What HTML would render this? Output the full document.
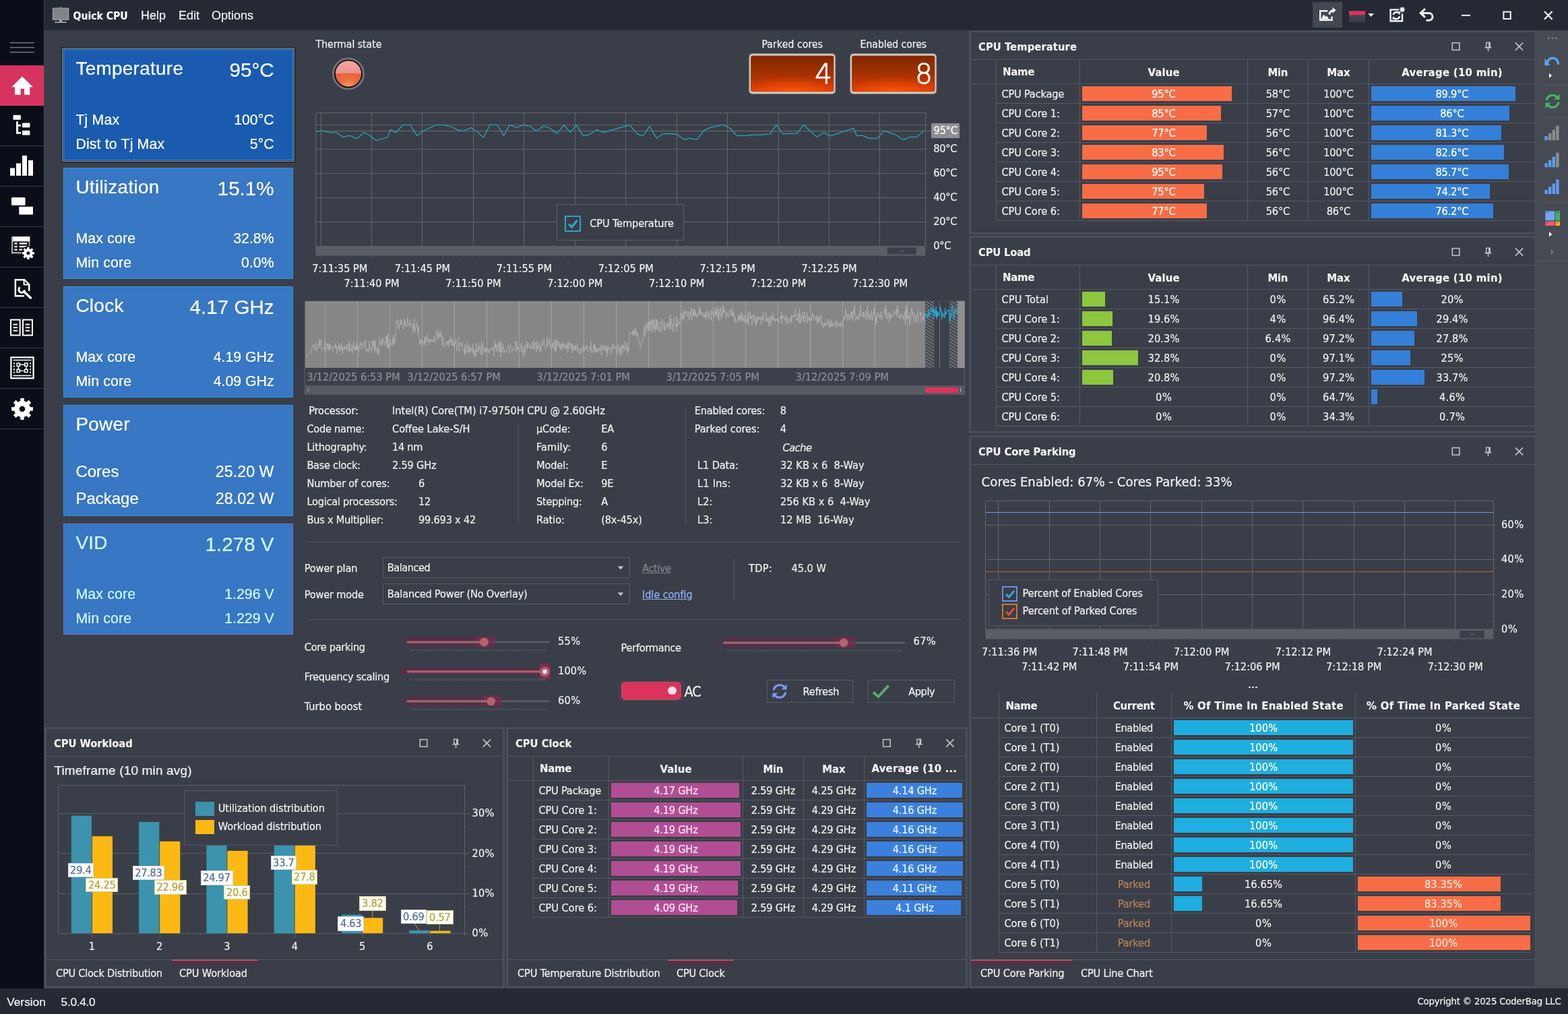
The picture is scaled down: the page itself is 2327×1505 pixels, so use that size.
<!DOCTYPE html>
<html lang="en"><head><meta charset="utf-8"><title>Quick CPU</title>
<style>
html,body{margin:0;padding:0;background:#3a3e48;}
body{width:2327px;height:1505px;overflow:hidden;position:relative;font-family:'DejaVu Sans Condensed','Liberation Sans',sans-serif;font-size:16px;color:#e6e6e6;}
#app{position:absolute;left:0;top:0;width:2327px;height:1505px;overflow:hidden;background:#3a3e48;}
#app div,#app svg{position:absolute;box-sizing:border-box;}
#app svg{overflow:visible;}
.t{white-space:pre;-webkit-text-stroke-width:0.22px;}
.b{-webkit-text-stroke-width:0.12px;}
.seg{width:40px;height:46px;line-height:46px;font-size:41px;text-align:center;color:#fff6ee;font-family:'DejaVu Sans Light','DejaVu Sans',sans-serif;font-weight:200;transform:scaleX(0.98);-webkit-text-stroke-width:1.1px;}

</style></head><body><div id="app">
<div style="left:65px;top:0px;width:2262px;height:45px;background:#252934;"></div>
<div style="left:0px;top:0px;width:65px;height:1467px;background:#0b0e18;"></div>
<div style="left:0px;top:1467px;width:2327px;height:38px;background:#252934;"></div>
<div style="left:2279px;top:45px;width:48px;height:1422px;background:#464a53;"></div>
<div style="left:0px;top:97px;width:65px;height:60px;background:#d6335e;"></div>
<div style="left:0px;top:216px;width:65px;height:1px;background:#3b3f4a;"></div>
<div style="left:0px;top:276px;width:65px;height:1px;background:#3b3f4a;"></div>
<div style="left:0px;top:336px;width:65px;height:1px;background:#3b3f4a;"></div>
<div style="left:0px;top:396px;width:65px;height:1px;background:#3b3f4a;"></div>
<div style="left:0px;top:456px;width:65px;height:1px;background:#3b3f4a;"></div>
<div style="left:0px;top:516px;width:65px;height:1px;background:#3b3f4a;"></div>
<div style="left:0px;top:576px;width:65px;height:1px;background:#3b3f4a;"></div>
<div style="left:0px;top:636px;width:65px;height:1px;background:#3b3f4a;"></div>
<div style="left:65px;top:0px;width:1px;height:45px;background:#383c47;"></div>
<div style="left:65px;top:45px;width:1px;height:1422px;background:#454954;"></div>
<svg style="left:0px;top:0px;" width="66" height="700" viewBox="0 0 66 700"><rect x="15" y="62.8" width="36" height="1.4" fill="#7b7f88"/><rect x="15" y="69.8" width="36" height="1.4" fill="#7b7f88"/><rect x="15" y="76.8" width="36" height="1.4" fill="#7b7f88"/><path fill="#fff" d="M33,113.6 L49,129.2 L44.2,129.2 L44.2,140.8 L36,140.8 L36,131.8 L30.6,131.8 L30.6,140.8 L22,140.8 L22,129.2 L17.2,129.2 Z"/><g fill="#fff"><rect x="19.5" y="170.8" width="11.4" height="7" rx="0.8"/><rect x="33" y="182.6" width="11.4" height="6.6" rx="0.8"/><rect x="33" y="193.8" width="11.4" height="6.8" rx="0.8"/><rect x="24" y="180.2" width="3" height="18.4"/><rect x="24" y="184.8" width="7" height="2.8"/><rect x="24" y="195.8" width="7" height="2.8"/></g><g fill="#fff"><rect x="15" y="249.4" width="7" height="11.4"/><rect x="24" y="242.4" width="7" height="18.4"/><rect x="33" y="230.9" width="7" height="29.9"/><rect x="42" y="237.8" width="7" height="23"/></g><g fill="#fff"><rect x="17" y="293" width="20.5" height="11.8" rx="1"/><rect x="28.3" y="306.8" width="20.7" height="11.6" rx="1"/></g><g fill="#fff"><rect x="17" y="351" width="27.4" height="7.4"/><rect x="17" y="351" width="2.2" height="25.4" fill="#a4a7ae"/><rect x="17" y="374" width="16" height="2.4" fill="#a4a7ae"/><rect x="42.6" y="358" width="1.8" height="8" fill="#a4a7ae"/><rect x="21.4" y="360.2" width="4.2" height="2.4"/><rect x="28.6" y="360.2" width="11.6" height="2.4"/><rect x="21.4" y="364.8" width="4.2" height="2.4"/><rect x="28.6" y="364.8" width="11.6" height="2.4"/><rect x="21.4" y="369.4" width="4.2" height="2.4"/><rect x="28.6" y="369.4" width="5" height="2.4"/></g><circle cx="41.9" cy="375.8" r="10.6" fill="#0b0e18"/><path fill="#fff" fill-rule="evenodd" d="M43.46,382.52 L43.59,384.95 L40.21,384.95 L40.34,382.52 L38.25,381.65 L36.62,383.46 L34.24,381.08 L36.05,379.45 L35.18,377.36 L32.75,377.49 L32.75,374.11 L35.18,374.24 L36.05,372.15 L34.24,370.52 L36.62,368.14 L38.25,369.95 L40.34,369.08 L40.21,366.65 L43.59,366.65 L43.46,369.08 L45.55,369.95 L47.18,368.14 L49.56,370.52 L47.75,372.15 L48.62,374.24 L51.05,374.11 L51.05,377.49 L48.62,377.36 L47.75,379.45 L49.56,381.08 L47.18,383.46 L45.55,381.65Z M44.40,375.80 A2.5,2.5 0 1,0 39.40,375.80 A2.5,2.5 0 1,0 44.40,375.80Z"/><g fill="none" stroke="#fff" stroke-width="2.5"><path d="M43.2,432 L43.2,422.2 L36.2,415.2 L22.8,415.2 L22.8,439.2 L36,439.2"/><path d="M35.6,415.6 L35.6,422.6 L42.8,422.6" stroke-width="2"/></g><path d="M28.6,431.2 A4.4,4.4 0 1 0 33.2,426.2" fill="none" stroke="#0b0e18" stroke-width="6.4"/><path d="M29.6,426.4 A4.3,4.3 0 1 0 36.4,430.4" fill="none" stroke="#fff" stroke-width="3"/><path d="M36.2,433.4 L45.4,442" stroke="#fff" stroke-width="3.6" stroke-linecap="round" fill="none"/><g fill="none" stroke="#fff" stroke-width="2"><rect x="16" y="474.6" width="13.6" height="23"/><rect x="34" y="474.6" width="14" height="23"/></g><g fill="#fff"><rect x="19.6" y="480.6" width="6.4" height="2"/><rect x="19.6" y="485.2" width="6.4" height="2"/><rect x="19.6" y="489.8" width="6.4" height="2"/><rect x="37.8" y="480.6" width="6.4" height="2"/><rect x="37.8" y="485.2" width="6.4" height="2"/><rect x="37.8" y="489.8" width="6.4" height="2"/></g><g fill="none" stroke="#fff" stroke-width="2.2"><rect x="16.4" y="530.4" width="33.2" height="31"/><path d="M19.4,534.4 H46.6 M19.4,557.4 H46.6" stroke-width="1.5"/><path d="M27.2,541.2 H38.8 V550.4 H27.2 Z" stroke-width="1.4"/><path d="M20.9,538.2 V554.4 M45.1,538.2 V554.4" stroke-width="1.8" stroke-dasharray="2.4 2"/></g><g fill="#0b0e18" stroke="#fff" stroke-width="1.5"><rect x="25.1" y="539.1" width="4.2" height="4.2"/><rect x="36.7" y="539.1" width="4.2" height="4.2"/><rect x="25.1" y="548.3" width="4.2" height="4.2"/><rect x="36.7" y="548.3" width="4.2" height="4.2"/></g><path fill="#fff" fill-rule="evenodd" d="M35.66,618.91 L35.84,622.95 L30.16,622.95 L30.34,618.91 L26.46,617.30 L23.73,620.28 L19.72,616.27 L22.70,613.54 L21.09,609.66 L17.05,609.84 L17.05,604.16 L21.09,604.34 L22.70,600.46 L19.72,597.73 L23.73,593.72 L26.46,596.70 L30.34,595.09 L30.16,591.05 L35.84,591.05 L35.66,595.09 L39.54,596.70 L42.27,593.72 L46.28,597.73 L43.30,600.46 L44.91,604.34 L48.95,604.16 L48.95,609.84 L44.91,609.66 L43.30,613.54 L46.28,616.27 L42.27,620.28 L39.54,617.30Z M37.30,607.00 A4.3,4.3 0 1,0 28.70,607.00 A4.3,4.3 0 1,0 37.30,607.00Z"/></svg>
<svg style="left:76px;top:8px;" width="28" height="28" viewBox="0 0 28 28"><rect x="1.8" y="3.6" width="24.6" height="18.4" rx="1" fill="#96989c"/><rect x="3.4" y="5" width="21.4" height="15.4" fill="#818387"/><path d="M14,1.6 L16.6,5.4 L11.4,5.4Z" fill="#8e9094"/><rect x="12.2" y="22" width="3.8" height="2.6" fill="#b4b6bb"/><rect x="5.2" y="24.2" width="17.6" height="1.8" fill="#a2a4a9"/></svg>
<div class="t b" style="top:17px;font-size:15.6px;line-height:15.6px;color:#ffffff;font-family:'DejaVu Sans Condensed','Liberation Sans',sans-serif;font-weight:bold;left:108.5px;">Quick CPU</div>
<div class="t" style="top:14px;font-size:18px;line-height:18px;color:#f0f0f0;font-family:'Liberation Sans',sans-serif;left:209px;">Help</div>
<div class="t" style="top:14px;font-size:18px;line-height:18px;color:#f0f0f0;font-family:'Liberation Sans',sans-serif;left:265px;">Edit</div>
<div class="t" style="top:14px;font-size:18px;line-height:18px;color:#f0f0f0;font-family:'Liberation Sans',sans-serif;left:314px;">Options</div>
<div style="left:1948px;top:3px;width:44px;height:38px;background:#434751;"></div>
<svg style="left:0px;top:0px;" width="2327" height="45" viewBox="0 0 2327 45"><g fill="none" stroke="#f4f4f4" stroke-width="2.4"><path d="M1970.4,16.2 H1959.2 V29.8 H1976.6 V24.4"/><path d="M1972.6,21.4 C1973.4,17.6 1975.6,15.6 1979,15.4" stroke-width="3"/></g><path d="M1977.6,10.6 L1982.6,15.2 L1977.6,19.8Z" fill="#f4f4f4"/><path d="M1960.6,28.6 L1964.4,21.4 L1967.6,25 L1969.2,23.6 L1972.4,28.6Z" fill="#f4f4f4"/><defs><linearGradient id="swg" x1="0" y1="0" x2="0" y2="1"><stop offset="0" stop-color="#4c5058"/><stop offset="1" stop-color="#363a43"/></linearGradient></defs><rect x="2002" y="16.4" width="24" height="17" fill="url(#swg)"/><rect x="2002" y="16.4" width="24" height="5.8" fill="#e0315d"/><path d="M2030.2,20 L2039,20 L2034.6,25Z" fill="#f4f4f4"/><g fill="none" stroke="#f4f4f4" stroke-width="2.4"><path d="M2076,14.4 H2063.6 V31.2 H2081 V20.6"/><path d="M2067.6,22 A4.8,4.8 0 0 1 2075.6,19.4" stroke-width="2.6"/><path d="M2077,24.2 A4.8,4.8 0 0 1 2069,26.8" stroke-width="2.6"/></g><path d="M2073.6,16.6 L2078.6,17.6 L2076.8,22.4Z M2071,29.6 L2066,28.6 L2067.8,23.8Z" fill="#f4f4f4"/><circle cx="2081" cy="14.2" r="2.6" fill="#f4f4f4"/><path d="M2081,10 V18.4 M2076.8,14.2 H2085.2 M2078,11.2 L2084,17.2 M2084,11.2 L2078,17.2" stroke="#f4f4f4" stroke-width="1.3"/><path d="M2108.8,19.4 H2120.6 A5.4,5.4 0 0 1 2120.6,30.2 H2116.6" fill="none" stroke="#f4f4f4" stroke-width="3"/><path d="M2115,13.2 L2108.2,19.4 L2115,25.6" fill="none" stroke="#f4f4f4" stroke-width="3"/><rect x="2169" y="21.8" width="13" height="2" fill="#f2f2f2"/><rect x="2231.4" y="17.6" width="10.4" height="10.4" fill="none" stroke="#f2f2f2" stroke-width="2"/><path d="M2292,17 L2303.6,28.6 M2303.6,17 L2292,28.6" stroke="#f2f2f2" stroke-width="2.2" fill="none"/></svg>
<div class="t" style="top:1479px;font-size:17.3px;line-height:17.3px;color:#f0f0f0;font-family:'Liberation Sans',sans-serif;left:10.2px;">Version</div>
<div class="t" style="top:1479px;font-size:17.3px;line-height:17.3px;color:#f0f0f0;font-family:'Liberation Sans',sans-serif;left:90.6px;letter-spacing:-0.3px;">5.0.4.0</div>
<div class="t" style="top:1479px;font-size:14.8px;line-height:14.8px;color:#f0f0f0;font-family:'DejaVu Sans Condensed','Liberation Sans',sans-serif;letter-spacing:-0.186px;right:10.39px;text-align:right;">Copyright © 2025 CoderBag LLC</div>
<div style="left:91px;top:70px;width:347px;height:171px;background:#2c3040;border:1px solid #0a0b0f;"></div>
<div style="left:92px;top:71px;width:345px;height:169px;border:1px solid #9a9aa6;"></div>
<div style="left:94px;top:73px;width:341.4px;height:165px;background:#1a5bb0;border:1px solid #2b9ae3;"></div>
<div class="t" style="top:88px;font-size:27.9px;line-height:27.9px;color:#ffffff;font-family:'Liberation Sans',sans-serif;left:112.4px;letter-spacing:0.3px;">Temperature</div>
<div class="t" style="top:89px;font-size:29.6px;line-height:29.6px;color:#ffffff;font-family:'Liberation Sans',sans-serif;right:1920.40px;text-align:right;">95°C</div>
<div class="t" style="top:168px;font-size:21.3px;line-height:21.3px;color:#ffffff;font-family:'Liberation Sans',sans-serif;left:112.4px;letter-spacing:0.15px;">Tj Max</div>
<div class="t" style="top:168px;font-size:21.3px;line-height:21.3px;color:#ffffff;font-family:'Liberation Sans',sans-serif;right:1920.40px;text-align:right;">100°C</div>
<div class="t" style="top:204px;font-size:21.3px;line-height:21.3px;color:#ffffff;font-family:'Liberation Sans',sans-serif;left:112.4px;letter-spacing:0.15px;">Dist to Tj Max</div>
<div class="t" style="top:204px;font-size:21.3px;line-height:21.3px;color:#ffffff;font-family:'Liberation Sans',sans-serif;right:1920.40px;text-align:right;">5°C</div>
<div style="left:94px;top:249px;width:341.4px;height:165px;background:#3777c3;border:1px solid #2f96e4;"></div>
<div class="t" style="top:264px;font-size:27.9px;line-height:27.9px;color:#ffffff;font-family:'Liberation Sans',sans-serif;left:112.4px;letter-spacing:0.3px;">Utilization</div>
<div class="t" style="top:265px;font-size:29.6px;line-height:29.6px;color:#ffffff;font-family:'Liberation Sans',sans-serif;right:1920.40px;text-align:right;">15.1%</div>
<div class="t" style="top:344px;font-size:21.3px;line-height:21.3px;color:#ffffff;font-family:'Liberation Sans',sans-serif;left:112.4px;letter-spacing:0.15px;">Max core</div>
<div class="t" style="top:344px;font-size:21.3px;line-height:21.3px;color:#ffffff;font-family:'Liberation Sans',sans-serif;right:1920.40px;text-align:right;">32.8%</div>
<div class="t" style="top:380px;font-size:21.3px;line-height:21.3px;color:#ffffff;font-family:'Liberation Sans',sans-serif;left:112.4px;letter-spacing:0.15px;">Min core</div>
<div class="t" style="top:380px;font-size:21.3px;line-height:21.3px;color:#ffffff;font-family:'Liberation Sans',sans-serif;right:1920.40px;text-align:right;">0.0%</div>
<div style="left:94px;top:425px;width:341.4px;height:165px;background:#3777c3;border:1px solid #2f96e4;"></div>
<div class="t" style="top:440px;font-size:27.9px;line-height:27.9px;color:#ffffff;font-family:'Liberation Sans',sans-serif;left:112.4px;letter-spacing:0.3px;">Clock</div>
<div class="t" style="top:441px;font-size:29.6px;line-height:29.6px;color:#ffffff;font-family:'Liberation Sans',sans-serif;right:1920.40px;text-align:right;">4.17 GHz</div>
<div class="t" style="top:520px;font-size:21.3px;line-height:21.3px;color:#ffffff;font-family:'Liberation Sans',sans-serif;left:112.4px;letter-spacing:0.15px;">Max core</div>
<div class="t" style="top:520px;font-size:21.3px;line-height:21.3px;color:#ffffff;font-family:'Liberation Sans',sans-serif;right:1920.40px;text-align:right;">4.19 GHz</div>
<div class="t" style="top:556px;font-size:21.3px;line-height:21.3px;color:#ffffff;font-family:'Liberation Sans',sans-serif;left:112.4px;letter-spacing:0.15px;">Min core</div>
<div class="t" style="top:556px;font-size:21.3px;line-height:21.3px;color:#ffffff;font-family:'Liberation Sans',sans-serif;right:1920.40px;text-align:right;">4.09 GHz</div>
<div style="left:94px;top:601px;width:341.4px;height:165px;background:#3777c3;border:1px solid #2f96e4;"></div>
<div class="t" style="top:616px;font-size:27.9px;line-height:27.9px;color:#ffffff;font-family:'Liberation Sans',sans-serif;left:112.4px;letter-spacing:0.3px;">Power</div>
<div class="t" style="top:688px;font-size:24px;line-height:24px;color:#ffffff;font-family:'Liberation Sans',sans-serif;left:112.4px;">Cores</div>
<div class="t" style="top:689px;font-size:23.3px;line-height:23.3px;color:#ffffff;font-family:'Liberation Sans',sans-serif;right:1920.40px;text-align:right;">25.20 W</div>
<div class="t" style="top:728px;font-size:24px;line-height:24px;color:#ffffff;font-family:'Liberation Sans',sans-serif;left:112.4px;">Package</div>
<div class="t" style="top:729px;font-size:23.3px;line-height:23.3px;color:#ffffff;font-family:'Liberation Sans',sans-serif;right:1920.40px;text-align:right;">28.02 W</div>
<div style="left:94px;top:777px;width:341.4px;height:165px;background:#3777c3;border:1px solid #6a76d8;"></div>
<div class="t" style="top:792px;font-size:27.9px;line-height:27.9px;color:#cdfbff;font-family:'Liberation Sans',sans-serif;left:112.4px;letter-spacing:0.3px;">VID</div>
<div class="t" style="top:793px;font-size:29.6px;line-height:29.6px;color:#cdfbff;font-family:'Liberation Sans',sans-serif;right:1920.40px;text-align:right;">1.278 V</div>
<div class="t" style="top:872px;font-size:21.3px;line-height:21.3px;color:#cdfbff;font-family:'Liberation Sans',sans-serif;left:112.4px;letter-spacing:0.15px;">Max core</div>
<div class="t" style="top:872px;font-size:21.3px;line-height:21.3px;color:#cdfbff;font-family:'Liberation Sans',sans-serif;right:1920.40px;text-align:right;">1.296 V</div>
<div class="t" style="top:908px;font-size:21.3px;line-height:21.3px;color:#cdfbff;font-family:'Liberation Sans',sans-serif;left:112.4px;letter-spacing:0.15px;">Min core</div>
<div class="t" style="top:908px;font-size:21.3px;line-height:21.3px;color:#cdfbff;font-family:'Liberation Sans',sans-serif;right:1920.40px;text-align:right;">1.229 V</div>
<div class="t" style="top:59px;font-size:15.6px;line-height:15.6px;color:#eeeeee;font-family:'DejaVu Sans Condensed','Liberation Sans',sans-serif;left:468.6px;">Thermal state</div>
<div class="t" style="top:59px;font-size:15.6px;line-height:15.6px;color:#eeeeee;font-family:'DejaVu Sans Condensed','Liberation Sans',sans-serif;letter-spacing:0.115px;left:875.86px;width:600px;text-align:center;">Parked cores</div>
<div class="t" style="top:59px;font-size:15.6px;line-height:15.6px;color:#eeeeee;font-family:'DejaVu Sans Condensed','Liberation Sans',sans-serif;letter-spacing:-0.018px;left:1025.89px;width:600px;text-align:center;">Enabled cores</div>
<svg style="left:486px;top:79px;" width="62" height="62" viewBox="0 0 62 62"><defs><linearGradient id="ledt" x1="0" y1="0" x2="0" y2="1"><stop offset="0" stop-color="#f1aaa8"/><stop offset="1" stop-color="#ea8f8a"/></linearGradient><radialGradient id="ledb" cx="0.5" cy="1" r="0.75"><stop offset="0" stop-color="#f9ae72"/><stop offset="0.4" stop-color="#ee7040"/><stop offset="1" stop-color="#e45a30"/></radialGradient><clipPath id="ledc"><circle cx="31" cy="30.5" r="19.1"/></clipPath></defs><circle cx="31" cy="30.5" r="24.1" fill="#6d7177"/><circle cx="31" cy="30.5" r="21" fill="#0e0f12"/><g clip-path="url(#ledc)"><rect x="10" y="10" width="42" height="42" fill="url(#ledb)"/><path d="M10,10 H52 V30.6 Q31,28.6 10,30.6Z" fill="url(#ledt)"/></g></svg>
<svg style="left:1110.8px;top:79.4px;" width="129.4" height="61" viewBox="0 0 129.4 61"><defs><linearGradient id="gla" x1="0" y1="0" x2="0" y2="1"><stop offset="0" stop-color="#832700"/><stop offset="0.45" stop-color="#9f3002"/><stop offset="1" stop-color="#d63c02"/></linearGradient><radialGradient id="gra" cx="0.5" cy="1.05" r="0.75" gradientTransform="translate(0.5 1.05) scale(1 0.62) translate(-0.5 -1.05)"><stop offset="0" stop-color="#ff5a08" stop-opacity="1"/><stop offset="0.5" stop-color="#f04a04" stop-opacity="0.75"/><stop offset="1" stop-color="#e04000" stop-opacity="0"/></radialGradient></defs><rect x="0" y="0" width="129.4" height="61" rx="5.5" fill="#6f6d6e"/><rect x="0.8" y="0.8" width="127.80000000000001" height="59.4" rx="5" fill="#b9b2ab"/><rect x="1.6" y="1.6" width="126.2" height="57.8" rx="4.4" fill="#d9d0c6"/><rect x="3.2" y="3.6" width="123.2" height="53.6" rx="3" fill="#7a4a3a"/><rect x="3.6" y="4" width="122.4" height="52.8" rx="2.6" fill="url(#gla)"/><rect x="3.6" y="4" width="122.4" height="52.8" rx="2.6" fill="url(#gra)"/></svg>
<div class="seg" style="left:1201.6px;top:87.0px;">4</div>
<svg style="left:1261px;top:79.4px;" width="129.4" height="61" viewBox="0 0 129.4 61"><defs><linearGradient id="glb" x1="0" y1="0" x2="0" y2="1"><stop offset="0" stop-color="#832700"/><stop offset="0.45" stop-color="#9f3002"/><stop offset="1" stop-color="#d63c02"/></linearGradient><radialGradient id="grb" cx="0.5" cy="1.05" r="0.75" gradientTransform="translate(0.5 1.05) scale(1 0.62) translate(-0.5 -1.05)"><stop offset="0" stop-color="#ff5a08" stop-opacity="1"/><stop offset="0.5" stop-color="#f04a04" stop-opacity="0.75"/><stop offset="1" stop-color="#e04000" stop-opacity="0"/></radialGradient></defs><rect x="0" y="0" width="129.4" height="61" rx="5.5" fill="#6f6d6e"/><rect x="0.8" y="0.8" width="127.80000000000001" height="59.4" rx="5" fill="#b9b2ab"/><rect x="1.6" y="1.6" width="126.2" height="57.8" rx="4.4" fill="#d9d0c6"/><rect x="3.2" y="3.6" width="123.2" height="53.6" rx="3" fill="#7a4a3a"/><rect x="3.6" y="4" width="122.4" height="52.8" rx="2.6" fill="url(#glb)"/><rect x="3.6" y="4" width="122.4" height="52.8" rx="2.6" fill="url(#grb)"/></svg>
<div class="seg" style="left:1350.6px;top:87.0px;">8</div>
<svg style="left:0px;top:0px;" width="2327" height="400" viewBox="0 0 2327 400"><rect x="468.5" y="365" width="905.0" height="14.6" fill="#5b5e67"/><rect x="1316.8" y="367.4" width="43" height="10" fill="#3b3f49"/><path d="M1336,370.5 V374.5 M1338.5,370.5 V374.5 M1341,370.5 V374.5" stroke="#5b5e67" stroke-width="1"/><path d="M468.5,167.5 H1373.5 M468.5,185.5 H1373.5 M468.5,221.5 H1373.5 M468.5,257.5 H1373.5 M468.5,293.5 H1373.5 M468.5,329.5 H1373.5 M476.5,167.5 V365 M551.5,167.5 V365 M626.5,167.5 V365 M702.5,167.5 V365 M777.5,167.5 V365 M853.5,167.5 V365 M928.5,167.5 V365 M1004.5,167.5 V365 M1079.5,167.5 V365 M1155.5,167.5 V365 M1230.5,167.5 V365 M1305.5,167.5 V365 M468.5,167.5 V365 M1373.5,167.5 V365" stroke="#62666e" stroke-width="1" fill="none" shape-rendering="crispEdges"/><path d="M468.5,194.5 H1381.5" stroke="#6a6e76" stroke-width="1" shape-rendering="crispEdges"/><path d="M476.5,379.6 V384 M491.5,379.6 V382 M506.5,379.6 V382 M521.5,379.6 V382 M536.5,379.6 V382 M551.5,379.6 V384 M566.5,379.6 V382 M581.5,379.6 V382 M596.5,379.6 V382 M611.5,379.6 V382 M626.5,379.6 V384 M641.5,379.6 V382 M657.5,379.6 V382 M672.5,379.6 V382 M687.5,379.6 V382 M702.5,379.6 V384 M717.5,379.6 V382 M732.5,379.6 V382 M747.5,379.6 V382 M762.5,379.6 V382 M777.5,379.6 V384 M792.5,379.6 V382 M807.5,379.6 V382 M823.5,379.6 V382 M838.5,379.6 V382 M853.5,379.6 V384 M868.5,379.6 V382 M883.5,379.6 V382 M898.5,379.6 V382 M913.5,379.6 V382 M928.5,379.6 V384 M943.5,379.6 V382 M958.5,379.6 V382 M973.5,379.6 V382 M989.5,379.6 V382 M1004.5,379.6 V384 M1019.5,379.6 V382 M1034.5,379.6 V382 M1049.5,379.6 V382 M1064.5,379.6 V382 M1079.5,379.6 V384 M1094.5,379.6 V382 M1109.5,379.6 V382 M1124.5,379.6 V382 M1139.5,379.6 V382 M1155.5,379.6 V384 M1170.5,379.6 V382 M1185.5,379.6 V382 M1200.5,379.6 V382 M1215.5,379.6 V382 M1230.5,379.6 V384 M1245.5,379.6 V382 M1260.5,379.6 V382 M1275.5,379.6 V382 M1290.5,379.6 V382 M1305.5,379.6 V384 M1321.5,379.6 V382 M1336.5,379.6 V382 M1351.5,379.6 V382 M1366.5,379.6 V382 M1373.5,365.5 H1377.5 M1373.5,347.5 H1376.0 M1373.5,329.5 H1377.5 M1373.5,311.5 H1376.0 M1373.5,293.5 H1377.5 M1373.5,275.5 H1376.0 M1373.5,257.5 H1377.5 M1373.5,239.5 H1376.0 M1373.5,221.5 H1377.5 M1373.5,203.5 H1376.0 M1373.5,185.5 H1377.5 M1373.5,167.5 H1376.0 " stroke="#50545d" stroke-width="1" shape-rendering="crispEdges"/><path d="M468.3,195.4 L477.9,193.9 L488.7,196.5 L499.4,196.5 L509.1,203.6 L519.2,201.2 L529.5,205.7 L540.2,196.5 L548.8,201.2 L558.5,208.7 L575.3,203.6 L579.6,192.4 L587.5,196.9 L598.3,185.3 L609.0,185.3 L618.7,201.4 L628.3,194.3 L647.7,185.3 L657.3,185.3 L668.1,187.5 L679.5,192.8 L688.1,194.5 L699.2,189.4 L707.8,195.4 L717.5,204.0 L727.2,185.3 L737.9,185.3 L747.6,201.4 L756.2,185.3 L766.9,189.6 L776.6,185.3 L786.9,187.5 L795.9,194.5 L806.7,187.2 L816.4,190.5 L826.5,198.4 L836.8,185.7 L846.4,196.7 L855.0,185.3 L865.8,201.9 L875.4,199.3 L885.8,192.4 L895.2,196.7 L934.5,185.3 L946.4,199.3 L954.6,201.4 L964.1,187.2 L974.4,205.1 L984.0,198.6 L993.7,198.4 L1004.5,199.3 L1015.2,207.2 L1023.8,205.1 L1034.1,207.4 L1045.3,192.8 L1053.9,189.4 L1064.6,187.2 L1073.2,185.1 L1082.9,190.0 L1093.6,201.4 L1111.9,201.4 L1114.0,200.1 L1132.3,200.1 L1133.4,199.3 L1142.4,199.1 L1152.3,185.3 L1162.4,199.3 L1167.8,198.2 L1182.8,198.2 L1192.5,185.3 L1212.5,203.6 L1222.6,196.5 L1231.8,201.9 L1266.6,190.3 L1271.3,201.4 L1280.6,201.4 L1290.2,205.3 L1302.1,205.3 L1311.7,194.1 L1327.8,199.3 L1340.7,207.4 L1350.4,203.4 L1360.5,203.4 L1370.8,194.1" stroke="#2ba6b8" stroke-width="1.25" fill="none" stroke-linejoin="round"/></svg>
<div style="left:1382px;top:183px;width:42px;height:21.6px;background:#8f8f93;"></div>
<div class="t" style="top:186px;font-size:16.3px;line-height:16.3px;color:#ffffff;font-family:'DejaVu Sans Condensed','Liberation Sans',sans-serif;letter-spacing:-0.279px;left:1385.6px;">95°C</div>
<div class="t" style="top:213px;font-size:16.3px;line-height:16.3px;color:#eeeeee;font-family:'DejaVu Sans Condensed','Liberation Sans',sans-serif;letter-spacing:-0.279px;left:1385.2px;">80°C</div>
<div class="t" style="top:249px;font-size:16.3px;line-height:16.3px;color:#eeeeee;font-family:'DejaVu Sans Condensed','Liberation Sans',sans-serif;letter-spacing:-0.279px;left:1385.2px;">60°C</div>
<div class="t" style="top:285px;font-size:16.3px;line-height:16.3px;color:#eeeeee;font-family:'DejaVu Sans Condensed','Liberation Sans',sans-serif;letter-spacing:-0.279px;left:1385.2px;">40°C</div>
<div class="t" style="top:321px;font-size:16.3px;line-height:16.3px;color:#eeeeee;font-family:'DejaVu Sans Condensed','Liberation Sans',sans-serif;letter-spacing:-0.279px;left:1385.2px;">20°C</div>
<div class="t" style="top:357px;font-size:16.3px;line-height:16.3px;color:#eeeeee;font-family:'DejaVu Sans Condensed','Liberation Sans',sans-serif;letter-spacing:-0.228px;left:1385.2px;">0°C</div>
<div class="t" style="top:391px;font-size:16.3px;line-height:16.3px;color:#eeeeee;font-family:'DejaVu Sans Condensed','Liberation Sans',sans-serif;letter-spacing:-0.031px;left:463.2px;">7:11:35 PM</div>
<div class="t" style="top:391px;font-size:16.3px;line-height:16.3px;color:#eeeeee;font-family:'DejaVu Sans Condensed','Liberation Sans',sans-serif;letter-spacing:-0.031px;left:326.98px;width:600px;text-align:center;">7:11:45 PM</div>
<div class="t" style="top:391px;font-size:16.3px;line-height:16.3px;color:#eeeeee;font-family:'DejaVu Sans Condensed','Liberation Sans',sans-serif;letter-spacing:-0.031px;left:477.88px;width:600px;text-align:center;">7:11:55 PM</div>
<div class="t" style="top:391px;font-size:16.3px;line-height:16.3px;color:#eeeeee;font-family:'DejaVu Sans Condensed','Liberation Sans',sans-serif;letter-spacing:-0.031px;left:628.78px;width:600px;text-align:center;">7:12:05 PM</div>
<div class="t" style="top:391px;font-size:16.3px;line-height:16.3px;color:#eeeeee;font-family:'DejaVu Sans Condensed','Liberation Sans',sans-serif;letter-spacing:-0.031px;left:779.68px;width:600px;text-align:center;">7:12:15 PM</div>
<div class="t" style="top:391px;font-size:16.3px;line-height:16.3px;color:#eeeeee;font-family:'DejaVu Sans Condensed','Liberation Sans',sans-serif;letter-spacing:-0.031px;left:930.58px;width:600px;text-align:center;">7:12:25 PM</div>
<div class="t" style="top:413px;font-size:16.3px;line-height:16.3px;color:#eeeeee;font-family:'DejaVu Sans Condensed','Liberation Sans',sans-serif;letter-spacing:-0.031px;left:251.53px;width:600px;text-align:center;">7:11:40 PM</div>
<div class="t" style="top:413px;font-size:16.3px;line-height:16.3px;color:#eeeeee;font-family:'DejaVu Sans Condensed','Liberation Sans',sans-serif;letter-spacing:-0.031px;left:402.43px;width:600px;text-align:center;">7:11:50 PM</div>
<div class="t" style="top:413px;font-size:16.3px;line-height:16.3px;color:#eeeeee;font-family:'DejaVu Sans Condensed','Liberation Sans',sans-serif;letter-spacing:-0.031px;left:553.33px;width:600px;text-align:center;">7:12:00 PM</div>
<div class="t" style="top:413px;font-size:16.3px;line-height:16.3px;color:#eeeeee;font-family:'DejaVu Sans Condensed','Liberation Sans',sans-serif;letter-spacing:-0.031px;left:704.23px;width:600px;text-align:center;">7:12:10 PM</div>
<div class="t" style="top:413px;font-size:16.3px;line-height:16.3px;color:#eeeeee;font-family:'DejaVu Sans Condensed','Liberation Sans',sans-serif;letter-spacing:-0.031px;left:855.13px;width:600px;text-align:center;">7:12:20 PM</div>
<div class="t" style="top:413px;font-size:16.3px;line-height:16.3px;color:#eeeeee;font-family:'DejaVu Sans Condensed','Liberation Sans',sans-serif;letter-spacing:-0.031px;left:1006.03px;width:600px;text-align:center;">7:12:30 PM</div>
<div style="left:826px;top:303px;width:189px;height:54px;background:#3a3e48;border:1px solid #5a5e67;"></div>
<div style="left:838px;top:320px;width:24px;height:24px;border:2px solid #2ba6c4;"></div>
<svg style="left:838px;top:320px;" width="24" height="24" viewBox="0 0 24 24"><path d="M6.2,12.6 L10.4,17 L18.6,7.2" stroke="#2ba6c4" stroke-width="3.4" fill="none"/></svg>
<div class="t" style="top:324px;font-size:16.3px;line-height:16.3px;color:#eeeeee;font-family:'DejaVu Sans Condensed','Liberation Sans',sans-serif;letter-spacing:-0.155px;left:875.2px;">CPU Temperature</div>
<svg style="left:0px;top:0px;" width="2327" height="600" viewBox="0 0 2327 600"><rect x="452.5" y="446.8" width="979.3" height="99.40000000000003" fill="#868686"/><defs><pattern id="hat" width="4" height="4" patternUnits="userSpaceOnUse" patternTransform="rotate(-58)"><rect width="4" height="4" fill="#3f434c"/><rect width="1.5" height="4" fill="#7c7f84"/></pattern></defs><rect x="1373" y="446.8" width="48" height="99.40000000000003" fill="#3b3f49"/><rect x="1373" y="446.8" width="13.4" height="99.40000000000003" fill="url(#hat)"/><rect x="1408.6" y="446.8" width="12.4" height="99.40000000000003" fill="url(#hat)"/><rect x="1421" y="446.8" width="10.799999999999955" height="99.40000000000003" fill="#8e8e8e"/><path d="M482.5,446.8 V546.2 M530.5,446.8 V546.2 M578.5,446.8 V546.2 M626.5,446.8 V546.2 M674.5,446.8 V546.2 M722.5,446.8 V546.2 M770.5,446.8 V546.2 M818.5,446.8 V546.2 M866.5,446.8 V546.2 M914.5,446.8 V546.2 M962.5,446.8 V546.2 M1010.5,446.8 V546.2 M1058.5,446.8 V546.2 M1106.5,446.8 V546.2 M1154.5,446.8 V546.2 M1202.5,446.8 V546.2 M1250.5,446.8 V546.2 M1298.5,446.8 V546.2 M1346.5,446.8 V546.2 " stroke="#a3a3a3" stroke-width="1" shape-rendering="crispEdges"/><path d="M1394.5,446.8 V546.2" stroke="#6d7077" stroke-width="1" shape-rendering="crispEdges"/><path d="M453.0,531.0 L453.6,530.5 L454.2,529.6 L454.9,529.2 L455.5,529.0 L456.1,528.1 L456.7,527.2 L457.3,527.0 L458.0,526.0 L458.6,525.4 L459.2,525.2 L459.8,524.5 L460.4,524.0 L461.1,523.4 L461.7,522.9 L462.3,522.4 L462.9,513.7 L463.5,514.6 L464.2,513.1 L464.8,511.0 L465.4,511.6 L466.0,516.0 L466.6,515.2 L467.3,520.5 L467.9,514.6 L468.5,511.5 L469.1,508.8 L469.7,518.5 L470.4,521.1 L471.0,516.5 L471.6,517.6 L472.2,512.4 L472.8,510.9 L473.5,512.7 L474.1,503.4 L474.7,516.0 L475.3,506.9 L475.9,504.3 L476.6,505.5 L477.2,519.2 L477.8,517.1 L478.4,516.9 L479.0,517.2 L479.7,517.3 L480.3,519.1 L480.9,517.3 L481.5,518.6 L482.1,507.2 L482.8,509.4 L483.4,521.9 L484.0,516.4 L484.6,517.8 L485.2,509.3 L485.9,513.2 L486.5,511.2 L487.1,519.1 L487.7,509.1 L488.3,513.8 L489.0,521.1 L489.6,510.6 L490.2,511.6 L490.8,517.7 L491.4,516.5 L492.1,515.6 L492.7,513.5 L493.3,516.2 L493.9,521.6 L494.5,517.5 L495.2,513.1 L495.8,513.4 L496.4,513.5 L497.0,516.7 L497.6,510.1 L498.3,516.1 L498.9,513.1 L499.5,517.9 L500.1,525.6 L500.7,516.5 L501.4,514.0 L502.0,514.7 L502.6,519.4 L503.2,509.9 L503.8,518.7 L504.5,521.5 L505.1,513.5 L505.7,517.7 L506.3,519.8 L506.9,508.7 L507.6,515.8 L508.2,525.5 L508.8,518.5 L509.4,515.6 L510.0,519.6 L510.7,513.7 L511.3,519.0 L511.9,513.8 L512.5,516.0 L513.1,517.8 L513.8,517.7 L514.4,510.7 L515.0,520.6 L515.6,518.3 L516.2,515.0 L516.9,510.0 L517.5,511.1 L518.1,521.9 L518.7,506.3 L519.3,521.2 L520.0,516.8 L520.6,516.8 L521.2,520.1 L521.8,521.6 L522.4,511.7 L523.1,524.1 L523.7,521.3 L524.3,513.8 L524.9,506.7 L525.5,518.7 L526.2,515.0 L526.8,518.7 L527.4,514.7 L528.0,519.7 L528.6,512.0 L529.3,518.9 L529.9,506.2 L530.5,519.8 L531.1,514.1 L531.7,514.9 L532.4,523.1 L533.0,515.2 L533.6,514.1 L534.2,509.3 L534.8,507.6 L535.5,512.3 L536.1,515.0 L536.7,518.6 L537.3,507.9 L537.9,512.1 L538.6,510.9 L539.2,511.5 L539.8,509.7 L540.4,516.6 L541.0,512.1 L541.7,506.2 L542.3,504.9 L542.9,511.0 L543.5,522.1 L544.1,518.4 L544.8,521.1 L545.4,518.0 L546.0,519.1 L546.6,521.0 L547.2,523.8 L547.9,507.0 L548.5,510.8 L549.1,518.1 L549.7,517.6 L550.3,519.1 L551.0,516.3 L551.6,522.6 L552.2,505.7 L552.8,513.4 L553.4,507.2 L554.1,511.1 L554.7,517.9 L555.3,503.1 L555.9,522.7 L556.5,517.0 L557.2,506.1 L557.8,519.8 L558.4,521.1 L559.0,523.3 L559.6,516.3 L560.3,515.8 L560.9,524.8 L561.5,519.8 L562.1,527.5 L562.7,515.5 L563.4,500.7 L564.0,508.8 L564.6,506.4 L565.2,510.5 L565.8,513.3 L566.5,509.4 L567.1,504.3 L567.7,512.2 L568.3,502.1 L568.9,506.5 L569.6,506.4 L570.2,507.7 L570.8,509.4 L571.4,513.8 L572.0,509.4 L572.7,499.3 L573.3,499.5 L573.9,511.4 L574.5,498.6 L575.1,517.3 L575.8,495.0 L576.4,509.6 L577.0,516.4 L577.6,510.8 L578.2,517.5 L578.9,512.6 L579.5,504.6 L580.1,510.8 L580.7,509.8 L581.3,512.0 L582.0,514.3 L582.6,503.8 L583.2,500.4 L583.8,511.5 L584.4,496.9 L585.1,506.5 L585.7,510.7 L586.3,505.2 L586.9,506.5 L587.5,492.9 L588.2,477.6 L588.8,479.4 L589.4,480.2 L590.0,473.6 L590.6,484.5 L591.3,481.9 L591.9,489.8 L592.5,484.3 L593.1,481.4 L593.7,474.5 L594.4,474.2 L595.0,482.0 L595.6,474.6 L596.2,477.8 L596.8,482.4 L597.5,483.3 L598.1,488.6 L598.7,487.2 L599.3,477.9 L599.9,473.3 L600.6,484.4 L601.2,475.7 L601.8,481.6 L602.4,481.1 L603.0,485.4 L603.7,484.0 L604.3,481.8 L604.9,471.1 L605.5,476.2 L606.1,483.4 L606.8,481.5 L607.4,481.3 L608.0,482.5 L608.6,475.5 L609.2,485.7 L609.9,483.9 L610.5,481.1 L611.1,479.6 L611.7,480.7 L612.3,483.2 L613.0,494.3 L613.6,481.4 L614.2,487.5 L614.8,472.8 L615.4,485.4 L616.1,492.7 L616.7,486.1 L617.3,486.9 L617.9,485.0 L618.5,478.4 L619.2,484.0 L619.8,494.5 L620.4,487.9 L621.0,483.3 L621.6,492.7 L622.3,500.3 L622.9,511.0 L623.5,506.1 L624.1,511.3 L624.7,503.3 L625.4,503.4 L626.0,508.7 L626.6,503.4 L627.2,512.1 L627.8,511.8 L628.5,510.3 L629.1,506.0 L629.7,509.0 L630.3,499.4 L630.9,512.8 L631.6,500.3 L632.2,499.9 L632.8,505.8 L633.4,504.8 L634.0,506.1 L634.7,495.6 L635.3,507.8 L635.9,505.1 L636.5,504.2 L637.1,511.9 L637.8,504.2 L638.4,503.3 L639.0,507.1 L639.6,507.9 L640.2,503.3 L640.9,506.0 L641.5,504.0 L642.1,506.6 L642.7,505.1 L643.3,507.4 L644.0,498.8 L644.6,502.7 L645.2,502.1 L645.8,508.4 L646.4,508.8 L647.1,506.5 L647.7,491.3 L648.3,493.9 L648.9,493.8 L649.5,498.1 L650.2,503.5 L650.8,489.8 L651.4,502.2 L652.0,496.8 L652.6,495.5 L653.3,495.7 L653.9,499.8 L654.5,491.6 L655.1,503.9 L655.7,507.0 L656.4,512.7 L657.0,505.0 L657.6,498.0 L658.2,508.6 L658.8,508.4 L659.5,516.0 L660.1,509.7 L660.7,509.9 L661.3,509.0 L661.9,508.9 L662.6,506.0 L663.2,511.7 L663.8,507.0 L664.4,512.4 L665.0,511.7 L665.7,505.7 L666.3,514.4 L666.9,505.9 L667.5,503.3 L668.1,509.1 L668.8,504.9 L669.4,498.9 L670.0,507.3 L670.6,512.8 L671.2,511.3 L671.9,503.7 L672.5,513.0 L673.1,509.2 L673.7,511.1 L674.3,516.3 L675.0,507.7 L675.6,510.3 L676.2,505.7 L676.8,502.5 L677.4,512.9 L678.1,521.0 L678.7,514.3 L679.3,512.3 L679.9,509.6 L680.5,500.7 L681.2,514.7 L681.8,521.6 L682.4,509.5 L683.0,508.3 L683.6,511.7 L684.3,512.0 L684.9,513.7 L685.5,511.4 L686.1,507.9 L686.7,520.2 L687.4,520.8 L688.0,519.5 L688.6,519.5 L689.2,526.2 L689.8,510.8 L690.5,527.0 L691.1,519.6 L691.7,518.4 L692.3,517.8 L692.9,508.1 L693.6,524.2 L694.2,516.3 L694.8,515.0 L695.4,521.4 L696.0,523.7 L696.7,511.4 L697.3,518.5 L697.9,523.3 L698.5,515.3 L699.1,520.3 L699.8,520.7 L700.4,516.7 L701.0,521.6 L701.6,510.8 L702.2,516.1 L702.9,526.0 L703.5,520.5 L704.1,530.8 L704.7,523.8 L705.3,519.3 L706.0,528.4 L706.6,508.7 L707.2,522.5 L707.8,521.1 L708.4,518.5 L709.1,522.9 L709.7,517.9 L710.3,508.9 L710.9,520.1 L711.5,514.7 L712.2,517.8 L712.8,514.9 L713.4,523.6 L714.0,526.1 L714.6,506.2 L715.3,527.0 L715.9,520.5 L716.5,511.6 L717.1,509.3 L717.7,519.4 L718.4,521.8 L719.0,519.0 L719.6,524.2 L720.2,516.9 L720.8,521.5 L721.5,514.1 L722.1,520.1 L722.7,517.2 L723.3,518.9 L723.9,522.5 L724.6,517.8 L725.2,524.5 L725.8,522.3 L726.4,518.3 L727.0,516.8 L727.7,521.0 L728.3,520.0 L728.9,518.9 L729.5,516.7 L730.1,516.4 L730.8,514.7 L731.4,520.1 L732.0,515.6 L732.6,523.8 L733.2,528.7 L733.9,505.7 L734.5,517.1 L735.1,514.8 L735.7,510.1 L736.3,522.1 L737.0,512.4 L737.6,518.7 L738.2,511.3 L738.8,509.8 L739.4,514.0 L740.1,522.2 L740.7,507.0 L741.3,516.5 L741.9,522.3 L742.5,506.1 L743.2,530.4 L743.8,508.7 L744.4,522.3 L745.0,515.8 L745.6,519.3 L746.3,515.4 L746.9,510.2 L747.5,523.3 L748.1,519.0 L748.7,522.8 L749.4,520.6 L750.0,520.6 L750.6,524.1 L751.2,521.2 L751.8,519.3 L752.5,515.9 L753.1,515.1 L753.7,515.0 L754.3,511.6 L754.9,521.2 L755.6,524.8 L756.2,519.0 L756.8,518.7 L757.4,509.5 L758.0,515.7 L758.7,518.4 L759.3,522.5 L759.9,523.8 L760.5,516.7 L761.1,516.5 L761.8,516.4 L762.4,517.9 L763.0,520.6 L763.6,517.2 L764.2,517.0 L764.9,508.9 L765.5,505.6 L766.1,518.6 L766.7,523.5 L767.3,506.9 L768.0,518.1 L768.6,515.1 L769.2,519.1 L769.8,515.5 L770.4,519.0 L771.1,521.8 L771.7,521.1 L772.3,518.7 L772.9,513.5 L773.5,508.4 L774.2,522.6 L774.8,522.1 L775.4,522.4 L776.0,513.4 L776.6,530.5 L777.3,527.6 L777.9,519.2 L778.5,514.2 L779.1,512.5 L779.7,524.6 L780.4,517.9 L781.0,516.4 L781.6,508.7 L782.2,506.9 L782.8,517.8 L783.5,516.9 L784.1,510.8 L784.7,509.3 L785.3,514.4 L785.9,517.3 L786.6,516.7 L787.2,512.1 L787.8,513.1 L788.4,518.6 L789.0,507.9 L789.7,508.0 L790.3,512.1 L790.9,514.9 L791.5,518.1 L792.1,505.6 L792.8,519.2 L793.4,512.5 L794.0,508.7 L794.6,507.7 L795.2,512.2 L795.9,522.9 L796.5,505.8 L797.1,514.1 L797.7,518.4 L798.3,512.5 L799.0,514.2 L799.6,518.6 L800.2,513.2 L800.8,509.1 L801.4,522.1 L802.1,515.2 L802.7,521.7 L803.3,512.4 L803.9,511.7 L804.5,506.5 L805.2,512.2 L805.8,513.4 L806.4,508.7 L807.0,502.8 L807.6,506.9 L808.3,510.2 L808.9,511.3 L809.5,519.2 L810.1,512.6 L810.7,511.4 L811.4,511.5 L812.0,499.9 L812.6,515.3 L813.2,508.9 L813.8,506.7 L814.5,506.3 L815.1,502.5 L815.7,513.8 L816.3,504.5 L816.9,515.1 L817.6,515.3 L818.2,518.8 L818.8,512.7 L819.4,512.9 L820.0,508.9 L820.7,516.6 L821.3,509.5 L821.9,505.3 L822.5,518.2 L823.1,514.7 L823.8,521.0 L824.4,502.4 L825.0,522.4 L825.6,505.8 L826.2,513.0 L826.9,512.9 L827.5,505.7 L828.1,505.0 L828.7,513.9 L829.3,513.3 L830.0,507.5 L830.6,516.8 L831.2,510.4 L831.8,519.8 L832.4,517.8 L833.1,510.7 L833.7,517.1 L834.3,513.0 L834.9,507.5 L835.5,518.5 L836.2,513.4 L836.8,510.3 L837.4,515.4 L838.0,512.0 L838.6,517.9 L839.3,512.2 L839.9,514.4 L840.5,517.4 L841.1,511.2 L841.7,524.1 L842.4,510.2 L843.0,506.4 L843.6,519.8 L844.2,516.3 L844.8,508.7 L845.5,508.6 L846.1,513.7 L846.7,509.3 L847.3,514.0 L847.9,518.3 L848.6,510.1 L849.2,524.0 L849.8,511.1 L850.4,516.6 L851.0,515.8 L851.7,521.0 L852.3,514.4 L852.9,512.1 L853.5,518.8 L854.1,512.5 L854.8,520.3 L855.4,516.0 L856.0,515.7 L856.6,510.3 L857.2,518.1 L857.9,521.7 L858.5,516.7 L859.1,520.4 L859.7,526.6 L860.3,524.4 L861.0,525.4 L861.6,517.2 L862.2,520.0 L862.8,523.6 L863.4,517.2 L864.1,518.7 L864.7,516.3 L865.3,513.4 L865.9,521.6 L866.5,522.4 L867.2,521.7 L867.8,515.6 L868.4,515.3 L869.0,519.4 L869.6,519.0 L870.3,511.6 L870.9,515.1 L871.5,514.4 L872.1,521.6 L872.7,520.5 L873.4,515.8 L874.0,515.7 L874.6,514.9 L875.2,515.0 L875.8,520.5 L876.5,523.6 L877.1,506.5 L877.7,518.7 L878.3,521.9 L878.9,524.2 L879.6,522.4 L880.2,521.3 L880.8,512.0 L881.4,517.5 L882.0,509.4 L882.7,523.5 L883.3,512.4 L883.9,522.5 L884.5,517.1 L885.1,519.1 L885.8,522.4 L886.4,518.4 L887.0,516.0 L887.6,520.6 L888.2,522.8 L888.9,516.1 L889.5,515.7 L890.1,519.8 L890.7,520.2 L891.3,512.5 L892.0,519.6 L892.6,528.7 L893.2,521.2 L893.8,511.0 L894.4,515.9 L895.1,517.4 L895.7,520.0 L896.3,515.3 L896.9,513.2 L897.5,519.2 L898.2,517.4 L898.8,521.1 L899.4,512.6 L900.0,520.6 L900.6,529.5 L901.3,514.4 L901.9,524.1 L902.5,513.9 L903.1,517.0 L903.7,517.5 L904.4,516.2 L905.0,515.4 L905.6,518.7 L906.2,525.2 L906.8,524.1 L907.5,513.8 L908.1,512.3 L908.7,513.4 L909.3,519.9 L909.9,510.2 L910.6,511.2 L911.2,516.7 L911.8,514.9 L912.4,516.9 L913.0,516.5 L913.7,518.1 L914.3,513.1 L914.9,518.3 L915.5,526.0 L916.1,518.3 L916.8,513.9 L917.4,511.1 L918.0,519.6 L918.6,517.6 L919.2,523.7 L919.9,519.0 L920.5,512.2 L921.1,528.4 L921.7,518.9 L922.3,517.3 L923.0,513.6 L923.6,525.1 L924.2,510.9 L924.8,516.8 L925.4,513.3 L926.1,520.5 L926.7,520.0 L927.3,514.2 L927.9,506.6 L928.5,517.5 L929.2,516.2 L929.8,521.2 L930.4,508.3 L931.0,512.5 L931.6,525.9 L932.3,514.5 L932.9,520.7 L933.5,507.6 L934.1,494.1 L934.7,492.5 L935.4,493.6 L936.0,493.7 L936.6,495.5 L937.2,494.4 L937.8,496.1 L938.5,493.2 L939.1,496.7 L939.7,489.1 L940.3,497.7 L940.9,490.6 L941.6,494.1 L942.2,497.9 L942.8,486.7 L943.4,489.3 L944.0,495.9 L944.7,494.7 L945.3,499.8 L945.9,492.5 L946.5,493.8 L947.1,502.5 L947.8,506.9 L948.4,510.1 L949.0,509.8 L949.6,509.4 L950.2,518.1 L950.9,517.6 L951.5,509.1 L952.1,509.1 L952.7,507.6 L953.3,505.0 L954.0,505.9 L954.6,498.4 L955.2,497.8 L955.8,483.0 L956.4,484.6 L957.1,499.9 L957.7,492.8 L958.3,486.3 L958.9,481.5 L959.5,493.0 L960.2,482.8 L960.8,484.9 L961.4,477.1 L962.0,487.7 L962.6,479.5 L963.3,490.5 L963.9,477.3 L964.5,490.8 L965.1,476.2 L965.7,482.6 L966.4,481.4 L967.0,474.6 L967.6,494.5 L968.2,482.8 L968.8,474.0 L969.5,489.2 L970.1,474.9 L970.7,477.2 L971.3,488.4 L971.9,484.1 L972.6,493.2 L973.2,473.6 L973.8,488.1 L974.4,473.8 L975.0,489.8 L975.7,475.9 L976.3,482.5 L976.9,485.7 L977.5,486.5 L978.1,492.4 L978.8,477.3 L979.4,478.5 L980.0,483.3 L980.6,492.7 L981.2,492.0 L981.9,488.7 L982.5,473.3 L983.1,477.9 L983.7,476.2 L984.3,484.4 L985.0,486.9 L985.6,491.0 L986.2,477.9 L986.8,490.8 L987.4,488.5 L988.1,483.1 L988.7,483.9 L989.3,480.0 L989.9,480.8 L990.5,482.9 L991.2,487.2 L991.8,478.2 L992.4,483.9 L993.0,477.2 L993.6,488.7 L994.3,467.8 L994.9,483.8 L995.5,489.3 L996.1,472.4 L996.7,478.8 L997.4,484.3 L998.0,481.5 L998.6,492.6 L999.2,492.0 L999.8,473.8 L1000.5,471.9 L1001.1,479.3 L1001.7,483.4 L1002.3,482.6 L1002.9,483.8 L1003.6,492.0 L1004.2,468.6 L1004.8,484.1 L1005.4,473.8 L1006.0,485.0 L1006.7,483.1 L1007.3,480.0 L1007.9,477.9 L1008.5,481.4 L1009.1,475.5 L1009.8,465.3 L1010.4,466.3 L1011.0,465.7 L1011.6,465.4 L1012.2,475.4 L1012.9,468.2 L1013.5,471.9 L1014.1,459.4 L1014.7,474.0 L1015.3,471.6 L1016.0,462.3 L1016.6,467.1 L1017.2,464.4 L1017.8,462.6 L1018.4,464.8 L1019.1,460.7 L1019.7,465.5 L1020.3,470.4 L1020.9,468.0 L1021.5,462.7 L1022.2,462.2 L1022.8,474.4 L1023.4,474.5 L1024.0,469.2 L1024.6,462.5 L1025.3,466.5 L1025.9,457.3 L1026.5,475.9 L1027.1,468.9 L1027.7,470.1 L1028.4,465.5 L1029.0,458.9 L1029.6,467.4 L1030.2,458.6 L1030.8,468.6 L1031.5,461.4 L1032.1,468.6 L1032.7,464.4 L1033.3,469.2 L1033.9,472.7 L1034.6,467.6 L1035.2,466.9 L1035.8,465.6 L1036.4,468.9 L1037.0,468.2 L1037.7,455.4 L1038.3,465.5 L1038.9,457.1 L1039.5,467.5 L1040.1,462.3 L1040.8,465.2 L1041.4,466.0 L1042.0,468.4 L1042.6,463.5 L1043.2,464.2 L1043.9,467.9 L1044.5,471.3 L1045.1,466.2 L1045.7,471.0 L1046.3,470.8 L1047.0,463.0 L1047.6,472.3 L1048.2,474.3 L1048.8,469.4 L1049.4,460.6 L1050.1,465.1 L1050.7,469.1 L1051.3,465.4 L1051.9,466.0 L1052.5,474.2 L1053.2,464.2 L1053.8,463.2 L1054.4,461.2 L1055.0,463.5 L1055.6,475.6 L1056.3,460.8 L1056.9,460.8 L1057.5,466.2 L1058.1,464.0 L1058.7,467.4 L1059.4,469.5 L1060.0,470.6 L1060.6,470.8 L1061.2,456.7 L1061.8,468.9 L1062.5,461.4 L1063.1,466.7 L1063.7,462.0 L1064.3,454.4 L1064.9,471.0 L1065.6,472.9 L1066.2,458.0 L1066.8,476.1 L1067.4,463.3 L1068.0,463.1 L1068.7,459.6 L1069.3,456.2 L1069.9,468.2 L1070.5,473.7 L1071.1,464.5 L1071.8,469.4 L1072.4,453.6 L1073.0,463.8 L1073.6,463.2 L1074.2,456.1 L1074.9,463.3 L1075.5,461.2 L1076.1,465.4 L1076.7,463.8 L1077.3,472.2 L1078.0,471.3 L1078.6,464.5 L1079.2,463.5 L1079.8,465.5 L1080.4,464.7 L1081.1,470.5 L1081.7,470.9 L1082.3,469.0 L1082.9,460.0 L1083.5,463.2 L1084.2,460.4 L1084.8,467.4 L1085.4,464.7 L1086.0,469.2 L1086.6,456.9 L1087.3,470.1 L1087.9,468.2 L1088.5,463.4 L1089.1,463.0 L1089.7,478.6 L1090.4,468.6 L1091.0,471.9 L1091.6,477.4 L1092.2,476.7 L1092.8,477.6 L1093.5,477.1 L1094.1,477.4 L1094.7,478.5 L1095.3,468.3 L1095.9,469.0 L1096.6,474.5 L1097.2,467.4 L1097.8,476.6 L1098.4,467.9 L1099.0,475.3 L1099.7,474.7 L1100.3,463.2 L1100.9,475.2 L1101.5,477.0 L1102.1,465.8 L1102.8,470.1 L1103.4,476.5 L1104.0,470.5 L1104.6,478.7 L1105.2,477.1 L1105.9,466.3 L1106.5,476.6 L1107.1,478.6 L1107.7,473.3 L1108.3,474.0 L1109.0,479.9 L1109.6,467.7 L1110.2,462.4 L1110.8,484.1 L1111.4,470.0 L1112.1,472.8 L1112.7,462.4 L1113.3,471.0 L1113.9,473.2 L1114.5,470.8 L1115.2,468.3 L1115.8,484.0 L1116.4,478.6 L1117.0,477.6 L1117.6,466.5 L1118.3,470.7 L1118.9,469.0 L1119.5,477.4 L1120.1,466.7 L1120.7,473.4 L1121.4,483.6 L1122.0,473.8 L1122.6,480.6 L1123.2,470.6 L1123.8,478.7 L1124.5,471.9 L1125.1,469.5 L1125.7,474.6 L1126.3,470.7 L1126.9,470.4 L1127.6,474.1 L1128.2,474.0 L1128.8,470.1 L1129.4,481.6 L1130.0,478.4 L1130.7,469.9 L1131.3,469.1 L1131.9,475.1 L1132.5,462.4 L1133.1,471.9 L1133.8,476.9 L1134.4,476.9 L1135.0,477.3 L1135.6,476.7 L1136.2,462.4 L1136.9,464.1 L1137.5,475.5 L1138.1,471.0 L1138.7,476.8 L1139.3,478.2 L1140.0,471.3 L1140.6,472.9 L1141.2,484.1 L1141.8,478.3 L1142.4,469.0 L1143.1,479.8 L1143.7,483.2 L1144.3,471.2 L1144.9,476.6 L1145.5,471.4 L1146.2,463.7 L1146.8,475.3 L1147.4,474.4 L1148.0,471.8 L1148.6,466.8 L1149.3,475.8 L1149.9,473.1 L1150.5,477.3 L1151.1,472.9 L1151.7,474.1 L1152.4,473.6 L1153.0,476.0 L1153.6,472.9 L1154.2,477.8 L1154.8,475.1 L1155.5,475.6 L1156.1,477.6 L1156.7,478.9 L1157.3,473.3 L1157.9,469.7 L1158.6,473.0 L1159.2,469.2 L1159.8,462.9 L1160.4,480.9 L1161.0,468.4 L1161.7,471.9 L1162.3,470.9 L1162.9,468.2 L1163.5,469.4 L1164.1,474.8 L1164.8,473.8 L1165.4,470.1 L1166.0,470.9 L1166.6,480.6 L1167.2,468.0 L1167.9,470.2 L1168.5,476.4 L1169.1,480.8 L1169.7,477.0 L1170.3,476.1 L1171.0,471.5 L1171.6,473.8 L1172.2,477.6 L1172.8,477.7 L1173.4,479.3 L1174.1,467.3 L1174.7,477.5 L1175.3,475.0 L1175.9,469.6 L1176.5,468.0 L1177.2,470.8 L1177.8,468.4 L1178.4,469.8 L1179.0,469.7 L1179.6,470.4 L1180.3,458.2 L1180.9,473.8 L1181.5,474.9 L1182.1,476.2 L1182.7,473.1 L1183.4,475.5 L1184.0,466.5 L1184.6,465.0 L1185.2,478.1 L1185.8,476.4 L1186.5,458.2 L1187.1,480.4 L1187.7,466.5 L1188.3,478.8 L1188.9,477.7 L1189.6,472.0 L1190.2,469.9 L1190.8,471.9 L1191.4,462.5 L1192.0,477.0 L1192.7,470.2 L1193.3,471.3 L1193.9,462.5 L1194.5,479.4 L1195.1,474.6 L1195.8,474.4 L1196.4,469.7 L1197.0,469.3 L1197.6,463.3 L1198.2,479.0 L1198.9,470.6 L1199.5,476.4 L1200.1,473.7 L1200.7,471.0 L1201.3,474.5 L1202.0,472.3 L1202.6,475.7 L1203.2,476.3 L1203.8,470.2 L1204.4,476.1 L1205.1,477.0 L1205.7,463.9 L1206.3,469.5 L1206.9,467.4 L1207.5,468.7 L1208.2,475.1 L1208.8,474.7 L1209.4,475.8 L1210.0,473.5 L1210.6,469.7 L1211.3,472.8 L1211.9,468.0 L1212.5,476.6 L1213.1,480.4 L1213.7,471.6 L1214.4,478.4 L1215.0,471.2 L1215.6,469.0 L1216.2,474.6 L1216.8,478.3 L1217.5,468.5 L1218.1,469.8 L1218.7,468.9 L1219.3,481.5 L1219.9,477.5 L1220.6,481.1 L1221.2,485.4 L1221.8,483.9 L1222.4,486.1 L1223.0,480.0 L1223.7,482.9 L1224.3,478.1 L1224.9,484.1 L1225.5,481.1 L1226.1,482.0 L1226.8,483.2 L1227.4,476.2 L1228.0,477.0 L1228.6,481.1 L1229.2,479.8 L1229.9,480.3 L1230.5,472.7 L1231.1,487.2 L1231.7,479.0 L1232.3,482.6 L1233.0,484.6 L1233.6,475.4 L1234.2,480.0 L1234.8,485.8 L1235.4,479.1 L1236.1,484.1 L1236.7,482.7 L1237.3,479.9 L1237.9,478.1 L1238.5,479.8 L1239.2,479.3 L1239.8,484.3 L1240.4,487.0 L1241.0,474.2 L1241.6,481.4 L1242.3,479.9 L1242.9,479.7 L1243.5,485.2 L1244.1,479.3 L1244.7,478.7 L1245.4,483.1 L1246.0,481.4 L1246.6,485.2 L1247.2,483.5 L1247.8,477.4 L1248.5,483.1 L1249.1,482.6 L1249.7,482.4 L1250.3,486.1 L1250.9,485.3 L1251.6,474.4 L1252.2,472.7 L1252.8,470.3 L1253.4,475.0 L1254.0,466.1 L1254.7,465.6 L1255.3,457.9 L1255.9,472.0 L1256.5,468.1 L1257.1,465.3 L1257.8,476.2 L1258.4,474.2 L1259.0,474.8 L1259.6,466.3 L1260.2,468.3 L1260.9,466.1 L1261.5,475.3 L1262.1,468.7 L1262.7,466.5 L1263.3,462.5 L1264.0,472.9 L1264.6,462.9 L1265.2,472.5 L1265.8,475.9 L1266.4,463.7 L1267.1,458.8 L1267.7,466.9 L1268.3,453.1 L1268.9,466.0 L1269.5,466.5 L1270.2,477.4 L1270.8,476.1 L1271.4,470.1 L1272.0,473.6 L1272.6,468.8 L1273.3,468.7 L1273.9,470.7 L1274.5,474.4 L1275.1,465.8 L1275.7,470.1 L1276.4,464.3 L1277.0,453.1 L1277.6,466.3 L1278.2,470.6 L1278.8,468.5 L1279.5,466.6 L1280.1,465.7 L1280.7,463.1 L1281.3,471.1 L1281.9,463.5 L1282.6,472.3 L1283.2,470.2 L1283.8,466.6 L1284.4,467.1 L1285.0,461.0 L1285.7,469.4 L1286.3,475.2 L1286.9,468.5 L1287.5,453.1 L1288.1,472.0 L1288.8,465.9 L1289.4,464.2 L1290.0,467.5 L1290.6,475.1 L1291.2,469.4 L1291.9,467.9 L1292.5,474.6 L1293.1,461.2 L1293.7,465.1 L1294.3,471.4 L1295.0,475.7 L1295.6,464.9 L1296.2,467.6 L1296.8,461.5 L1297.4,457.4 L1298.1,466.3 L1298.7,460.8 L1299.3,482.6 L1299.9,468.2 L1300.5,472.0 L1301.2,479.0 L1301.8,468.5 L1302.4,463.8 L1303.0,464.1 L1303.6,466.5 L1304.3,472.4 L1304.9,472.6 L1305.5,466.1 L1306.1,471.0 L1306.7,469.7 L1307.4,462.1 L1308.0,475.4 L1308.6,473.7 L1309.2,470.6 L1309.8,467.9 L1310.5,469.2 L1311.1,466.9 L1311.7,464.3 L1312.3,459.3 L1312.9,461.4 L1313.6,466.6 L1314.2,453.1 L1314.8,472.1 L1315.4,457.6 L1316.0,470.6 L1316.7,474.3 L1317.3,471.3 L1317.9,466.2 L1318.5,464.7 L1319.1,463.5 L1319.8,478.6 L1320.4,470.0 L1321.0,464.8 L1321.6,473.5 L1322.2,467.1 L1322.9,468.2 L1323.5,469.8 L1324.1,467.9 L1324.7,466.8 L1325.3,470.1 L1326.0,468.3 L1326.6,465.6 L1327.2,460.9 L1327.8,466.2 L1328.4,464.1 L1329.1,465.1 L1329.7,465.8 L1330.3,459.0 L1330.9,470.1 L1331.5,453.1 L1332.2,455.2 L1332.8,464.2 L1333.4,460.1 L1334.0,469.2 L1334.6,471.9 L1335.3,467.7 L1335.9,473.8 L1336.5,468.5 L1337.1,464.7 L1337.7,466.8 L1338.4,470.0 L1339.0,470.8 L1339.6,468.7 L1340.2,469.1 L1340.8,474.4 L1341.5,467.3 L1342.1,469.9 L1342.7,462.2 L1343.3,481.8 L1343.9,473.6 L1344.6,453.1 L1345.2,474.3 L1345.8,457.7 L1346.4,474.6 L1347.0,468.7 L1347.7,472.1 L1348.3,468.4 L1348.9,471.7 L1349.5,462.7 L1350.1,482.9 L1350.8,474.0 L1351.4,477.1 L1352.0,468.1 L1352.6,457.8 L1353.2,456.6 L1353.9,469.0 L1354.5,463.1 L1355.1,464.5 L1355.7,470.8 L1356.3,479.0 L1357.0,470.3 L1357.6,465.4 L1358.2,467.6 L1358.8,469.2 L1359.4,480.0 L1360.1,468.7 L1360.7,470.7 L1361.3,469.9 L1361.9,461.5 L1362.5,478.3 L1363.2,469.4 L1363.8,467.8 L1364.4,467.4 L1365.0,466.6 L1365.6,463.3 L1366.3,469.1 L1366.9,463.5 L1367.5,478.2 L1368.1,471.8 L1368.7,472.4 L1369.4,473.3 L1370.0,475.2 L1370.6,464.1 L1371.2,473.1 L1371.8,471.1 L1372.5,482.0" stroke="#b4b4b4" stroke-width="0.85" fill="none" stroke-linejoin="round" opacity="0.92"/><path d="M1373.0,465.5 L1373.8,469.7 L1374.6,465.8 L1375.4,468.3 L1376.2,472.9 L1377.0,467.9 L1377.8,459.6 L1378.6,470.2 L1379.4,465.4 L1380.2,466.7 L1381.0,462.7 L1381.8,457.9 L1382.6,458.7 L1383.4,463.9 L1384.2,459.8 L1385.0,455.0 L1385.8,472.7 L1386.6,459.2 L1387.4,461.8 L1388.2,469.1 L1389.0,455.0 L1389.8,473.8 L1390.6,461.5 L1391.4,469.9 L1392.2,463.2 L1393.0,467.8 L1393.8,466.6 L1394.6,466.0 L1395.4,455.3 L1396.2,457.4 L1397.0,465.8 L1397.8,474.2 L1398.6,462.8 L1399.4,469.1 L1400.2,466.9 L1401.0,468.8 L1401.8,471.8 L1402.6,457.2 L1403.4,467.6 L1404.2,465.0 L1405.0,464.2 L1405.8,461.0 L1406.6,461.4 L1407.4,460.0 L1408.2,459.6 L1409.0,478.0 L1409.8,475.9 L1410.6,466.1 L1411.4,470.3 L1412.2,460.3 L1413.0,455.0 L1413.8,455.3 L1414.6,466.8 L1415.4,474.4 L1416.2,465.8 L1417.0,460.1 L1417.8,464.6 L1418.6,460.2 L1419.4,457.8 L1420.2,464.6 L1421.0,463.7" stroke="#27a9d4" stroke-width="1.1" fill="none" stroke-linejoin="round"/><rect x="452.5" y="546.2" width="979.3" height="25.8" fill="#3c404a"/><rect x="452.5" y="572" width="979.3" height="14" fill="#565a63"/><rect x="1373" y="575.2" width="49" height="7.8" fill="#e3305c"/><rect x="1425" y="575.6" width="1" height="6" fill="#b8bbc0"/><rect x="456.6" y="575.6" width="1" height="6" fill="#9a9da3"/><path d="M452.5,446.8 V586 M1431.8,546.2 V586" stroke="#5a5e67" stroke-width="1" shape-rendering="crispEdges" fill="none"/></svg>
<div class="t" style="top:552px;font-size:16.3px;line-height:16.3px;color:#8b8f97;font-family:'DejaVu Sans Condensed','Liberation Sans',sans-serif;letter-spacing:-0.025px;left:455.4px;">3/12/2025 6:53 PM</div>
<div class="t" style="top:552px;font-size:16.3px;line-height:16.3px;color:#8b8f97;font-family:'DejaVu Sans Condensed','Liberation Sans',sans-serif;letter-spacing:-0.025px;left:604.6px;">3/12/2025 6:57 PM</div>
<div class="t" style="top:552px;font-size:16.3px;line-height:16.3px;color:#8b8f97;font-family:'DejaVu Sans Condensed','Liberation Sans',sans-serif;letter-spacing:-0.025px;left:796.6px;">3/12/2025 7:01 PM</div>
<div class="t" style="top:552px;font-size:16.3px;line-height:16.3px;color:#8b8f97;font-family:'DejaVu Sans Condensed','Liberation Sans',sans-serif;letter-spacing:-0.025px;left:988.6px;">3/12/2025 7:05 PM</div>
<div class="t" style="top:552px;font-size:16.3px;line-height:16.3px;color:#8b8f97;font-family:'DejaVu Sans Condensed','Liberation Sans',sans-serif;letter-spacing:-0.025px;left:1180.6px;">3/12/2025 7:09 PM</div>
<div class="t" style="top:602px;font-size:16.3px;line-height:16.3px;color:#eeeeee;font-family:'DejaVu Sans Condensed','Liberation Sans',sans-serif;letter-spacing:-0.157px;left:458.2px;">Processor:</div>
<div class="t" style="top:602px;font-size:16.3px;line-height:16.3px;color:#eeeeee;font-family:'DejaVu Sans Condensed','Liberation Sans',sans-serif;letter-spacing:-0.057px;left:582px;">Intel(R) Core(TM) i7-9750H CPU @ 2.60GHz</div>
<div class="t" style="top:629px;font-size:16.3px;line-height:16.3px;color:#eeeeee;font-family:'DejaVu Sans Condensed','Liberation Sans',sans-serif;letter-spacing:-0.307px;left:455.4px;">Code name:</div>
<div class="t" style="top:629px;font-size:16.3px;line-height:16.3px;color:#eeeeee;font-family:'DejaVu Sans Condensed','Liberation Sans',sans-serif;letter-spacing:-0.088px;left:582px;">Coffee Lake-S/H</div>
<div class="t" style="top:656px;font-size:16.3px;line-height:16.3px;color:#eeeeee;font-family:'DejaVu Sans Condensed','Liberation Sans',sans-serif;letter-spacing:-0.200px;left:455.4px;">Lithography:</div>
<div class="t" style="top:656px;font-size:16.3px;line-height:16.3px;color:#eeeeee;font-family:'DejaVu Sans Condensed','Liberation Sans',sans-serif;letter-spacing:-0.335px;left:582px;">14 nm</div>
<div class="t" style="top:683px;font-size:16.3px;line-height:16.3px;color:#eeeeee;font-family:'DejaVu Sans Condensed','Liberation Sans',sans-serif;letter-spacing:-0.330px;left:455.4px;">Base clock:</div>
<div class="t" style="top:683px;font-size:16.3px;line-height:16.3px;color:#eeeeee;font-family:'DejaVu Sans Condensed','Liberation Sans',sans-serif;letter-spacing:-0.234px;left:582px;">2.59 GHz</div>
<div class="t" style="top:710px;font-size:16.3px;line-height:16.3px;color:#eeeeee;font-family:'DejaVu Sans Condensed','Liberation Sans',sans-serif;letter-spacing:-0.216px;left:455.4px;">Number of cores:</div>
<div class="t" style="top:710px;font-size:16.3px;line-height:16.3px;color:#eeeeee;font-family:'DejaVu Sans Condensed','Liberation Sans',sans-serif;left:621px;">6</div>
<div class="t" style="top:737px;font-size:16.3px;line-height:16.3px;color:#eeeeee;font-family:'DejaVu Sans Condensed','Liberation Sans',sans-serif;letter-spacing:-0.285px;left:455.4px;">Logical processors:</div>
<div class="t" style="top:737px;font-size:16.3px;line-height:16.3px;color:#eeeeee;font-family:'DejaVu Sans Condensed','Liberation Sans',sans-serif;letter-spacing:-0.424px;left:621px;">12</div>
<div class="t" style="top:764px;font-size:16.3px;line-height:16.3px;color:#eeeeee;font-family:'DejaVu Sans Condensed','Liberation Sans',sans-serif;letter-spacing:-0.245px;left:455.4px;">Bus x Multiplier:</div>
<div class="t" style="top:764px;font-size:16.3px;line-height:16.3px;color:#eeeeee;font-family:'DejaVu Sans Condensed','Liberation Sans',sans-serif;letter-spacing:-0.253px;left:621px;">99.693 x 42</div>
<div class="t" style="top:629px;font-size:16.3px;line-height:16.3px;color:#eeeeee;font-family:'DejaVu Sans Condensed','Liberation Sans',sans-serif;letter-spacing:-0.217px;left:796px;">µCode:</div>
<div class="t" style="top:629px;font-size:16.3px;line-height:16.3px;color:#eeeeee;font-family:'DejaVu Sans Condensed','Liberation Sans',sans-serif;letter-spacing:-0.217px;left:892.2px;">EA</div>
<div class="t" style="top:656px;font-size:16.3px;line-height:16.3px;color:#eeeeee;font-family:'DejaVu Sans Condensed','Liberation Sans',sans-serif;letter-spacing:0.076px;left:796px;">Family:</div>
<div class="t" style="top:656px;font-size:16.3px;line-height:16.3px;color:#eeeeee;font-family:'DejaVu Sans Condensed','Liberation Sans',sans-serif;left:892.2px;">6</div>
<div class="t" style="top:683px;font-size:16.3px;line-height:16.3px;color:#eeeeee;font-family:'DejaVu Sans Condensed','Liberation Sans',sans-serif;letter-spacing:-0.188px;left:796px;">Model:</div>
<div class="t" style="top:683px;font-size:16.3px;line-height:16.3px;color:#eeeeee;font-family:'DejaVu Sans Condensed','Liberation Sans',sans-serif;left:892.2px;">E</div>
<div class="t" style="top:710px;font-size:16.3px;line-height:16.3px;color:#eeeeee;font-family:'DejaVu Sans Condensed','Liberation Sans',sans-serif;letter-spacing:-0.184px;left:796px;">Model Ex:</div>
<div class="t" style="top:710px;font-size:16.3px;line-height:16.3px;color:#eeeeee;font-family:'DejaVu Sans Condensed','Liberation Sans',sans-serif;letter-spacing:-0.289px;left:892.2px;">9E</div>
<div class="t" style="top:737px;font-size:16.3px;line-height:16.3px;color:#eeeeee;font-family:'DejaVu Sans Condensed','Liberation Sans',sans-serif;letter-spacing:-0.296px;left:796px;">Stepping:</div>
<div class="t" style="top:737px;font-size:16.3px;line-height:16.3px;color:#eeeeee;font-family:'DejaVu Sans Condensed','Liberation Sans',sans-serif;left:892.2px;">A</div>
<div class="t" style="top:764px;font-size:16.3px;line-height:16.3px;color:#eeeeee;font-family:'DejaVu Sans Condensed','Liberation Sans',sans-serif;letter-spacing:-0.110px;left:796px;">Ratio:</div>
<div class="t" style="top:764px;font-size:16.3px;line-height:16.3px;color:#eeeeee;font-family:'DejaVu Sans Condensed','Liberation Sans',sans-serif;letter-spacing:-0.178px;left:892.2px;">(8x-45x)</div>
<div class="t" style="top:602px;font-size:16.3px;line-height:16.3px;color:#eeeeee;font-family:'DejaVu Sans Condensed','Liberation Sans',sans-serif;letter-spacing:-0.276px;left:1030.8px;">Enabled cores:</div>
<div class="t" style="top:602px;font-size:16.3px;line-height:16.3px;color:#eeeeee;font-family:'DejaVu Sans Condensed','Liberation Sans',sans-serif;left:1157.8px;">8</div>
<div class="t" style="top:629px;font-size:16.3px;line-height:16.3px;color:#eeeeee;font-family:'DejaVu Sans Condensed','Liberation Sans',sans-serif;letter-spacing:-0.142px;left:1030.8px;">Parked cores:</div>
<div class="t" style="top:629px;font-size:16.3px;line-height:16.3px;color:#eeeeee;font-family:'DejaVu Sans Condensed','Liberation Sans',sans-serif;left:1157.8px;">4</div>
<div class="t" style="top:657px;font-size:16.3px;line-height:16.3px;color:#eeeeee;font-family:'DejaVu Sans Condensed','Liberation Sans',sans-serif;font-style:italic;letter-spacing:-0.536px;left:1161.6px;">Cache</div>
<div class="t" style="top:683px;font-size:16.3px;line-height:16.3px;color:#eeeeee;font-family:'DejaVu Sans Condensed','Liberation Sans',sans-serif;letter-spacing:-0.156px;left:1035px;">L1 Data:</div>
<div class="t" style="top:683px;font-size:16.3px;line-height:16.3px;color:#eeeeee;font-family:'DejaVu Sans Condensed','Liberation Sans',sans-serif;left:1158px;">32 KB x 6  8-Way</div>
<div class="t" style="top:710px;font-size:16.3px;line-height:16.3px;color:#eeeeee;font-family:'DejaVu Sans Condensed','Liberation Sans',sans-serif;letter-spacing:0.211px;left:1035px;">L1 Ins:</div>
<div class="t" style="top:710px;font-size:16.3px;line-height:16.3px;color:#eeeeee;font-family:'DejaVu Sans Condensed','Liberation Sans',sans-serif;left:1158px;">32 KB x 6  8-Way</div>
<div class="t" style="top:737px;font-size:16.3px;line-height:16.3px;color:#eeeeee;font-family:'DejaVu Sans Condensed','Liberation Sans',sans-serif;letter-spacing:0.073px;left:1035px;">L2:</div>
<div class="t" style="top:737px;font-size:16.3px;line-height:16.3px;color:#eeeeee;font-family:'DejaVu Sans Condensed','Liberation Sans',sans-serif;letter-spacing:-0.028px;left:1158px;">256 KB x 6  4-Way</div>
<div class="t" style="top:764px;font-size:16.3px;line-height:16.3px;color:#eeeeee;font-family:'DejaVu Sans Condensed','Liberation Sans',sans-serif;letter-spacing:0.073px;left:1035px;">L3:</div>
<div class="t" style="top:764px;font-size:16.3px;line-height:16.3px;color:#eeeeee;font-family:'DejaVu Sans Condensed','Liberation Sans',sans-serif;left:1158px;">12 MB  16-Way</div>
<div style="left:769px;top:630px;width:1px;height:148px;background:#52565e;"></div>
<div style="left:1017px;top:602px;width:1px;height:176px;background:#52565e;"></div>
<div style="left:456px;top:804px;width:973px;height:1px;background:#52565e;"></div>
<div style="left:456px;top:919px;width:973px;height:1px;background:#52565e;"></div>
<div style="left:1089px;top:829px;width:1px;height:65px;background:#52565e;"></div>
<div class="t" style="top:836px;font-size:16.3px;line-height:16.3px;color:#eeeeee;font-family:'DejaVu Sans Condensed','Liberation Sans',sans-serif;letter-spacing:-0.199px;left:451.8px;">Power plan</div>
<div class="t" style="top:875px;font-size:16.3px;line-height:16.3px;color:#eeeeee;font-family:'DejaVu Sans Condensed','Liberation Sans',sans-serif;letter-spacing:-0.234px;left:451.8px;">Power mode</div>
<div style="left:568px;top:826.5px;width:366.5px;height:31px;background:#3a3e48;border:1px solid #595d66;"></div>
<div class="t" style="top:835px;font-size:16.3px;line-height:16.3px;color:#eeeeee;font-family:'DejaVu Sans Condensed','Liberation Sans',sans-serif;letter-spacing:-0.517px;left:574.8px;">Balanced</div>
<svg style="left:916px;top:839.5px;" width="10" height="6" viewBox="0 0 10 6"><path d="M0.6,0.4 H9.4 L5,5.2Z" fill="#c8cacd"/></svg>
<div style="left:568px;top:865.5px;width:366.5px;height:31px;background:#3a3e48;border:1px solid #595d66;"></div>
<div class="t" style="top:874px;font-size:16.3px;line-height:16.3px;color:#eeeeee;font-family:'DejaVu Sans Condensed','Liberation Sans',sans-serif;letter-spacing:-0.238px;left:574.8px;">Balanced Power (No Overlay)</div>
<svg style="left:916px;top:878.5px;" width="10" height="6" viewBox="0 0 10 6"><path d="M0.6,0.4 H9.4 L5,5.2Z" fill="#c8cacd"/></svg>
<div class="t" style="top:836px;font-size:16.3px;line-height:16.3px;color:#80848c;font-family:'DejaVu Sans Condensed','Liberation Sans',sans-serif;letter-spacing:-0.462px;left:953px;text-decoration:underline;">Active</div>
<div class="t" style="top:875px;font-size:16.3px;line-height:16.3px;color:#8cb0f4;font-family:'DejaVu Sans Condensed','Liberation Sans',sans-serif;letter-spacing:-0.145px;left:953px;text-decoration:underline;">Idle config</div>
<div class="t" style="top:836px;font-size:16.3px;line-height:16.3px;color:#eeeeee;font-family:'DejaVu Sans Condensed','Liberation Sans',sans-serif;letter-spacing:0.276px;left:1111px;">TDP:</div>
<div class="t" style="top:836px;font-size:16.3px;line-height:16.3px;color:#eeeeee;font-family:'DejaVu Sans Condensed','Liberation Sans',sans-serif;letter-spacing:-0.092px;left:1174.6px;">45.0 W</div>
<svg style="left:0;top:0" width="2327" height="1100"><rect x="603.5" y="951.8" width="212.5" height="2.4" rx="1.2" fill="#5b5f68"/><rect x="592.5" y="947" width="16" height="12" fill="#5e2a46" opacity="0.25"/><rect x="607.5" y="944.6" width="97.10000000000002" height="15.6" fill="#5e2a46" opacity="0.62"/><rect x="704.6" y="944.6" width="30" height="15.6" fill="#7a2a4c" opacity="0.72"/><rect x="603.5" y="951.4" width="115.10000000000002" height="3.2" rx="1.6" fill="#a2696e"/><circle cx="718.6" cy="953" r="6.4" fill="#b2636c"/><path d="M609.5,963.4 V966.4 M612.1,963.4 V966.4 M614.7,963.4 V966.4 M617.3,963.4 V966.4 M619.9,963.4 V966.4 M622.5,963.4 V966.4 M625.1,963.4 V966.4 M627.7,963.4 V966.4 M630.3,963.4 V966.4 M632.9,963.4 V966.4 M635.5,963.4 V966.4 M638.1,963.4 V966.4 M640.7,963.4 V966.4 M643.3,963.4 V966.4 M645.9,963.4 V966.4 M648.5,963.4 V966.4 M651.1,963.4 V966.4 M653.7,963.4 V966.4 M656.3,963.4 V966.4 M658.9,963.4 V966.4 M661.5,963.4 V966.4 M664.1,963.4 V966.4 M666.7,963.4 V966.4 M669.3,963.4 V966.4 M671.9,963.4 V966.4 M674.5,963.4 V966.4 M677.1,963.4 V966.4 M679.7,963.4 V966.4 M682.3,963.4 V966.4 M684.9,963.4 V966.4 M687.5,963.4 V966.4 M690.1,963.4 V966.4 M692.7,963.4 V966.4 M695.3,963.4 V966.4 M697.9,963.4 V966.4 M700.5,963.4 V966.4 M703.1,963.4 V966.4 M705.7,963.4 V966.4 M708.3,963.4 V966.4 M710.9,963.4 V966.4 M713.5,963.4 V966.4 M716.1,963.4 V966.4 M718.7,963.4 V966.4 M721.3,963.4 V966.4 M723.9,963.4 V966.4 M726.5,963.4 V966.4 M729.1,963.4 V966.4 M731.7,963.4 V966.4 M734.3,963.4 V966.4 M736.9,963.4 V966.4 M739.5,963.4 V966.4 M742.1,963.4 V966.4 M744.7,963.4 V966.4 M747.3,963.4 V966.4 M749.9,963.4 V966.4 M752.5,963.4 V966.4 M755.1,963.4 V966.4 M757.7,963.4 V966.4 M760.3,963.4 V966.4 M762.9,963.4 V966.4 M765.5,963.4 V966.4 M768.1,963.4 V966.4 M770.7,963.4 V966.4 M773.3,963.4 V966.4 M775.9,963.4 V966.4 M778.5,963.4 V966.4 M781.1,963.4 V966.4 M783.7,963.4 V966.4 M786.3,963.4 V966.4 M788.9,963.4 V966.4 M791.5,963.4 V966.4 M794.1,963.4 V966.4 M796.7,963.4 V966.4 M799.3,963.4 V966.4 M801.9,963.4 V966.4 M804.5,963.4 V966.4 M807.1,963.4 V966.4 M809.7,963.4 V966.4 " stroke="#585c65" stroke-width="1.1"/></svg>
<svg style="left:0;top:0" width="2327" height="1100"><rect x="603.5" y="995.5999999999999" width="212.5" height="2.4" rx="1.2" fill="#5b5f68"/><rect x="592.5" y="992.4" width="209.10000000000002" height="8" fill="#6a2748" opacity="0.62"/><rect x="800.6" y="984.8" width="16" height="23" fill="#8c2a52" opacity="0.8"/><rect x="603.5" y="995.1999999999999" width="205.10000000000002" height="3.2" rx="1.6" fill="#a9606e"/><circle cx="808.6" cy="996.8" r="7.4" fill="#b9586e"/><circle cx="808.6" cy="996.8" r="3.4" fill="#ffe4fb"/><path d="M609.5,1007.1999999999999 V1010.1999999999999 M612.1,1007.1999999999999 V1010.1999999999999 M614.7,1007.1999999999999 V1010.1999999999999 M617.3,1007.1999999999999 V1010.1999999999999 M619.9,1007.1999999999999 V1010.1999999999999 M622.5,1007.1999999999999 V1010.1999999999999 M625.1,1007.1999999999999 V1010.1999999999999 M627.7,1007.1999999999999 V1010.1999999999999 M630.3,1007.1999999999999 V1010.1999999999999 M632.9,1007.1999999999999 V1010.1999999999999 M635.5,1007.1999999999999 V1010.1999999999999 M638.1,1007.1999999999999 V1010.1999999999999 M640.7,1007.1999999999999 V1010.1999999999999 M643.3,1007.1999999999999 V1010.1999999999999 M645.9,1007.1999999999999 V1010.1999999999999 M648.5,1007.1999999999999 V1010.1999999999999 M651.1,1007.1999999999999 V1010.1999999999999 M653.7,1007.1999999999999 V1010.1999999999999 M656.3,1007.1999999999999 V1010.1999999999999 M658.9,1007.1999999999999 V1010.1999999999999 M661.5,1007.1999999999999 V1010.1999999999999 M664.1,1007.1999999999999 V1010.1999999999999 M666.7,1007.1999999999999 V1010.1999999999999 M669.3,1007.1999999999999 V1010.1999999999999 M671.9,1007.1999999999999 V1010.1999999999999 M674.5,1007.1999999999999 V1010.1999999999999 M677.1,1007.1999999999999 V1010.1999999999999 M679.7,1007.1999999999999 V1010.1999999999999 M682.3,1007.1999999999999 V1010.1999999999999 M684.9,1007.1999999999999 V1010.1999999999999 M687.5,1007.1999999999999 V1010.1999999999999 M690.1,1007.1999999999999 V1010.1999999999999 M692.7,1007.1999999999999 V1010.1999999999999 M695.3,1007.1999999999999 V1010.1999999999999 M697.9,1007.1999999999999 V1010.1999999999999 M700.5,1007.1999999999999 V1010.1999999999999 M703.1,1007.1999999999999 V1010.1999999999999 M705.7,1007.1999999999999 V1010.1999999999999 M708.3,1007.1999999999999 V1010.1999999999999 M710.9,1007.1999999999999 V1010.1999999999999 M713.5,1007.1999999999999 V1010.1999999999999 M716.1,1007.1999999999999 V1010.1999999999999 M718.7,1007.1999999999999 V1010.1999999999999 M721.3,1007.1999999999999 V1010.1999999999999 M723.9,1007.1999999999999 V1010.1999999999999 M726.5,1007.1999999999999 V1010.1999999999999 M729.1,1007.1999999999999 V1010.1999999999999 M731.7,1007.1999999999999 V1010.1999999999999 M734.3,1007.1999999999999 V1010.1999999999999 M736.9,1007.1999999999999 V1010.1999999999999 M739.5,1007.1999999999999 V1010.1999999999999 M742.1,1007.1999999999999 V1010.1999999999999 M744.7,1007.1999999999999 V1010.1999999999999 M747.3,1007.1999999999999 V1010.1999999999999 M749.9,1007.1999999999999 V1010.1999999999999 M752.5,1007.1999999999999 V1010.1999999999999 M755.1,1007.1999999999999 V1010.1999999999999 M757.7,1007.1999999999999 V1010.1999999999999 M760.3,1007.1999999999999 V1010.1999999999999 M762.9,1007.1999999999999 V1010.1999999999999 M765.5,1007.1999999999999 V1010.1999999999999 M768.1,1007.1999999999999 V1010.1999999999999 M770.7,1007.1999999999999 V1010.1999999999999 M773.3,1007.1999999999999 V1010.1999999999999 M775.9,1007.1999999999999 V1010.1999999999999 M778.5,1007.1999999999999 V1010.1999999999999 M781.1,1007.1999999999999 V1010.1999999999999 M783.7,1007.1999999999999 V1010.1999999999999 M786.3,1007.1999999999999 V1010.1999999999999 M788.9,1007.1999999999999 V1010.1999999999999 M791.5,1007.1999999999999 V1010.1999999999999 M794.1,1007.1999999999999 V1010.1999999999999 M796.7,1007.1999999999999 V1010.1999999999999 M799.3,1007.1999999999999 V1010.1999999999999 M801.9,1007.1999999999999 V1010.1999999999999 M804.5,1007.1999999999999 V1010.1999999999999 M807.1,1007.1999999999999 V1010.1999999999999 M809.7,1007.1999999999999 V1010.1999999999999 " stroke="#585c65" stroke-width="1.1"/></svg>
<svg style="left:0;top:0" width="2327" height="1100"><rect x="603.5" y="1039.6" width="212.5" height="2.4" rx="1.2" fill="#5b5f68"/><rect x="592.5" y="1034.8" width="16" height="12" fill="#5e2a46" opacity="0.25"/><rect x="607.5" y="1032.3999999999999" width="107.29999999999995" height="15.6" fill="#5e2a46" opacity="0.62"/><rect x="714.8" y="1032.3999999999999" width="30" height="15.6" fill="#7a2a4c" opacity="0.72"/><rect x="603.5" y="1039.2" width="125.29999999999995" height="3.2" rx="1.6" fill="#a2696e"/><circle cx="728.8" cy="1040.8" r="6.4" fill="#b2636c"/><path d="M609.5,1051.2 V1054.2 M612.1,1051.2 V1054.2 M614.7,1051.2 V1054.2 M617.3,1051.2 V1054.2 M619.9,1051.2 V1054.2 M622.5,1051.2 V1054.2 M625.1,1051.2 V1054.2 M627.7,1051.2 V1054.2 M630.3,1051.2 V1054.2 M632.9,1051.2 V1054.2 M635.5,1051.2 V1054.2 M638.1,1051.2 V1054.2 M640.7,1051.2 V1054.2 M643.3,1051.2 V1054.2 M645.9,1051.2 V1054.2 M648.5,1051.2 V1054.2 M651.1,1051.2 V1054.2 M653.7,1051.2 V1054.2 M656.3,1051.2 V1054.2 M658.9,1051.2 V1054.2 M661.5,1051.2 V1054.2 M664.1,1051.2 V1054.2 M666.7,1051.2 V1054.2 M669.3,1051.2 V1054.2 M671.9,1051.2 V1054.2 M674.5,1051.2 V1054.2 M677.1,1051.2 V1054.2 M679.7,1051.2 V1054.2 M682.3,1051.2 V1054.2 M684.9,1051.2 V1054.2 M687.5,1051.2 V1054.2 M690.1,1051.2 V1054.2 M692.7,1051.2 V1054.2 M695.3,1051.2 V1054.2 M697.9,1051.2 V1054.2 M700.5,1051.2 V1054.2 M703.1,1051.2 V1054.2 M705.7,1051.2 V1054.2 M708.3,1051.2 V1054.2 M710.9,1051.2 V1054.2 M713.5,1051.2 V1054.2 M716.1,1051.2 V1054.2 M718.7,1051.2 V1054.2 M721.3,1051.2 V1054.2 M723.9,1051.2 V1054.2 M726.5,1051.2 V1054.2 M729.1,1051.2 V1054.2 M731.7,1051.2 V1054.2 M734.3,1051.2 V1054.2 M736.9,1051.2 V1054.2 M739.5,1051.2 V1054.2 M742.1,1051.2 V1054.2 M744.7,1051.2 V1054.2 M747.3,1051.2 V1054.2 M749.9,1051.2 V1054.2 M752.5,1051.2 V1054.2 M755.1,1051.2 V1054.2 M757.7,1051.2 V1054.2 M760.3,1051.2 V1054.2 M762.9,1051.2 V1054.2 M765.5,1051.2 V1054.2 M768.1,1051.2 V1054.2 M770.7,1051.2 V1054.2 M773.3,1051.2 V1054.2 M775.9,1051.2 V1054.2 M778.5,1051.2 V1054.2 M781.1,1051.2 V1054.2 M783.7,1051.2 V1054.2 M786.3,1051.2 V1054.2 M788.9,1051.2 V1054.2 M791.5,1051.2 V1054.2 M794.1,1051.2 V1054.2 M796.7,1051.2 V1054.2 M799.3,1051.2 V1054.2 M801.9,1051.2 V1054.2 M804.5,1051.2 V1054.2 M807.1,1051.2 V1054.2 M809.7,1051.2 V1054.2 " stroke="#585c65" stroke-width="1.1"/></svg>
<svg style="left:0;top:0" width="2327" height="1100"><rect x="1073" y="952.8" width="270.5" height="2.4" rx="1.2" fill="#5b5f68"/><rect x="1062" y="948" width="16" height="12" fill="#5e2a46" opacity="0.25"/><rect x="1077" y="945.6" width="161.20000000000005" height="15.6" fill="#5e2a46" opacity="0.62"/><rect x="1238.2" y="945.6" width="30" height="15.6" fill="#7a2a4c" opacity="0.72"/><rect x="1073" y="952.4" width="179.20000000000005" height="3.2" rx="1.6" fill="#a2696e"/><circle cx="1252.2" cy="954" r="6.4" fill="#b2636c"/><path d="M1079.0,964.4 V967.4 M1081.6,964.4 V967.4 M1084.2,964.4 V967.4 M1086.8,964.4 V967.4 M1089.4,964.4 V967.4 M1092.0,964.4 V967.4 M1094.6,964.4 V967.4 M1097.2,964.4 V967.4 M1099.8,964.4 V967.4 M1102.4,964.4 V967.4 M1105.0,964.4 V967.4 M1107.6,964.4 V967.4 M1110.2,964.4 V967.4 M1112.8,964.4 V967.4 M1115.4,964.4 V967.4 M1118.0,964.4 V967.4 M1120.6,964.4 V967.4 M1123.2,964.4 V967.4 M1125.8,964.4 V967.4 M1128.4,964.4 V967.4 M1131.0,964.4 V967.4 M1133.6,964.4 V967.4 M1136.2,964.4 V967.4 M1138.8,964.4 V967.4 M1141.4,964.4 V967.4 M1144.0,964.4 V967.4 M1146.6,964.4 V967.4 M1149.2,964.4 V967.4 M1151.8,964.4 V967.4 M1154.4,964.4 V967.4 M1157.0,964.4 V967.4 M1159.6,964.4 V967.4 M1162.2,964.4 V967.4 M1164.8,964.4 V967.4 M1167.4,964.4 V967.4 M1170.0,964.4 V967.4 M1172.6,964.4 V967.4 M1175.2,964.4 V967.4 M1177.8,964.4 V967.4 M1180.4,964.4 V967.4 M1183.0,964.4 V967.4 M1185.6,964.4 V967.4 M1188.2,964.4 V967.4 M1190.8,964.4 V967.4 M1193.4,964.4 V967.4 M1196.0,964.4 V967.4 M1198.6,964.4 V967.4 M1201.2,964.4 V967.4 M1203.8,964.4 V967.4 M1206.4,964.4 V967.4 M1209.0,964.4 V967.4 M1211.6,964.4 V967.4 M1214.2,964.4 V967.4 M1216.8,964.4 V967.4 M1219.4,964.4 V967.4 M1222.0,964.4 V967.4 M1224.6,964.4 V967.4 M1227.2,964.4 V967.4 M1229.8,964.4 V967.4 M1232.4,964.4 V967.4 M1235.0,964.4 V967.4 M1237.6,964.4 V967.4 M1240.2,964.4 V967.4 M1242.8,964.4 V967.4 M1245.4,964.4 V967.4 M1248.0,964.4 V967.4 M1250.6,964.4 V967.4 M1253.2,964.4 V967.4 M1255.8,964.4 V967.4 M1258.4,964.4 V967.4 M1261.0,964.4 V967.4 M1263.6,964.4 V967.4 M1266.2,964.4 V967.4 M1268.8,964.4 V967.4 M1271.4,964.4 V967.4 M1274.0,964.4 V967.4 M1276.6,964.4 V967.4 M1279.2,964.4 V967.4 M1281.8,964.4 V967.4 M1284.4,964.4 V967.4 M1287.0,964.4 V967.4 M1289.6,964.4 V967.4 M1292.2,964.4 V967.4 M1294.8,964.4 V967.4 M1297.4,964.4 V967.4 M1300.0,964.4 V967.4 M1302.6,964.4 V967.4 M1305.2,964.4 V967.4 M1307.8,964.4 V967.4 M1310.4,964.4 V967.4 M1313.0,964.4 V967.4 M1315.6,964.4 V967.4 M1318.2,964.4 V967.4 M1320.8,964.4 V967.4 M1323.4,964.4 V967.4 M1326.0,964.4 V967.4 M1328.6,964.4 V967.4 M1331.2,964.4 V967.4 M1333.8,964.4 V967.4 M1336.4,964.4 V967.4 " stroke="#585c65" stroke-width="1.1"/></svg>
<div class="t" style="top:953px;font-size:16.3px;line-height:16.3px;color:#eeeeee;font-family:'DejaVu Sans Condensed','Liberation Sans',sans-serif;letter-spacing:-0.325px;left:451.8px;">Core parking</div>
<div class="t" style="top:997px;font-size:16.3px;line-height:16.3px;color:#eeeeee;font-family:'DejaVu Sans Condensed','Liberation Sans',sans-serif;letter-spacing:-0.320px;left:451.8px;">Frequency scaling</div>
<div class="t" style="top:1041px;font-size:16.3px;line-height:16.3px;color:#eeeeee;font-family:'DejaVu Sans Condensed','Liberation Sans',sans-serif;letter-spacing:0.013px;left:451.8px;">Turbo boost</div>
<div class="t" style="top:944px;font-size:16.3px;line-height:16.3px;color:#eeeeee;font-family:'DejaVu Sans Condensed','Liberation Sans',sans-serif;letter-spacing:0.287px;left:828px;">55%</div>
<div class="t" style="top:988px;font-size:16.3px;line-height:16.3px;color:#eeeeee;font-family:'DejaVu Sans Condensed','Liberation Sans',sans-serif;letter-spacing:0.111px;left:828px;">100%</div>
<div class="t" style="top:1032px;font-size:16.3px;line-height:16.3px;color:#eeeeee;font-family:'DejaVu Sans Condensed','Liberation Sans',sans-serif;letter-spacing:0.287px;left:828px;">60%</div>
<div class="t" style="top:954px;font-size:16.3px;line-height:16.3px;color:#eeeeee;font-family:'DejaVu Sans Condensed','Liberation Sans',sans-serif;letter-spacing:-0.320px;left:921.6px;">Performance</div>
<div class="t" style="top:944px;font-size:16.3px;line-height:16.3px;color:#eeeeee;font-family:'DejaVu Sans Condensed','Liberation Sans',sans-serif;letter-spacing:0.287px;left:1355.6px;">67%</div>
<div style="left:916px;top:1009px;width:100px;height:32px;background:rgba(200,40,90,0.13);border-radius:4px;"></div>
<div style="left:922px;top:1012px;width:89.4px;height:27px;background:#dc325c;border-radius:6px;border:1px solid #8e6a68;"></div>
<div style="left:991.2px;top:1018.8px;width:12.6px;height:12.6px;background:#ffe0f2;border-radius:50%;"></div>
<div class="t" style="top:1016px;font-size:21.5px;line-height:21.5px;color:#f4f4f4;font-family:'DejaVu Sans Condensed','Liberation Sans',sans-serif;letter-spacing:-1.200px;left:1015.6px;">AC</div>
<div style="left:1138.4px;top:1009px;width:128px;height:34px;border:1px solid #595d66;"></div>
<div style="left:1288.4px;top:1009px;width:128.4px;height:34px;border:1px solid #595d66;"></div>
<svg style="left:1144px;top:1013px;" width="26" height="26" viewBox="0 0 26 26"><g fill="none" stroke="#7a97f2" stroke-width="3.2"><path d="M4.2,11.4 A9,9 0 0 1 20.4,7.4"/><path d="M21.8,14.6 A9,9 0 0 1 5.6,18.6"/></g><path d="M23.6,2.6 V10.4 H15.8Z M2.4,23.4 V15.6 H10.2Z" fill="#7a97f2"/></svg>
<svg style="left:1293px;top:1013px;" width="28" height="26" viewBox="0 0 28 26"><path d="M3,14.6 L10.4,21 L25.6,4.6" stroke="#5dab6c" stroke-width="4" fill="none"/></svg>
<div class="t" style="top:1019px;font-size:16.3px;line-height:16.3px;color:#eeeeee;font-family:'DejaVu Sans Condensed','Liberation Sans',sans-serif;letter-spacing:-0.197px;left:1191.6px;">Refresh</div>
<div class="t" style="top:1019px;font-size:16.3px;line-height:16.3px;color:#eeeeee;font-family:'DejaVu Sans Condensed','Liberation Sans',sans-serif;letter-spacing:-0.457px;left:1348.2px;">Apply</div>
<div style="left:1438px;top:45px;width:841px;height:303px;background:#494d57;"></div>
<div style="left:1440px;top:47px;width:839px;height:299px;background:#4e525c;"></div>
<div style="left:1441px;top:48px;width:837px;height:297px;background:#3a3e48;"></div>
<div class="t b" style="top:62px;font-size:16.4px;line-height:16.4px;color:#f4f4f4;font-family:'DejaVu Sans Condensed','Liberation Sans',sans-serif;font-weight:bold;letter-spacing:0.094px;left:1452px;">CPU Temperature</div>
<div style="left:1441px;top:88px;width:837px;height:1px;background:#565a63;"></div>
<svg style="left:0;top:0" width="2327" height="95"><rect x="2155.3" y="63.599999999999994" width="10.6" height="10.6" fill="none" stroke="#c4c5c9" stroke-width="1.5"/><g transform="translate(2203.5,62.8)"><rect x="2.2" y="0.4" width="5.6" height="7" fill="none" stroke="#c4c5c9" stroke-width="1.4"/><rect x="5.6" y="0.4" width="2.2" height="7" fill="#c4c5c9"/><rect x="0" y="7.2" width="10" height="1.5" fill="#c4c5c9"/><rect x="4.3" y="8.4" width="1.5" height="5" fill="#c4c5c9"/></g><path d="M2248.9,63.4 L2260.1,74.6 M2260.1,63.4 L2248.9,74.6" stroke="#c4c5c9" stroke-width="1.6" fill="none"/></svg>
<svg style="left:0;top:0" width="2327" height="331"><path d="M1441,124.5 H2278 M1478,153.5 H2278 M1478,182.5 H2278 M1478,211.5 H2278 M1478,240.5 H2278 M1478,269.5 H2278 M1478,298.5 H2278 M1478,327.5 H2278 M1478.5,88 V328 M1602.5,88 V328 M1851.5,88 V328 M1941.5,88 V328 M2031.5,88 V328 " stroke="#565a63" stroke-width="1" fill="none" shape-rendering="crispEdges"/></svg>
<div class="t b" style="top:99px;font-size:16.6px;line-height:16.6px;color:#f4f4f4;font-family:'DejaVu Sans Condensed','Liberation Sans',sans-serif;font-weight:bold;letter-spacing:-0.312px;left:1488px;">Name</div>
<div class="t b" style="top:100px;font-size:16.6px;line-height:16.6px;color:#f4f4f4;font-family:'DejaVu Sans Condensed','Liberation Sans',sans-serif;font-weight:bold;letter-spacing:0.161px;left:1427.08px;width:600px;text-align:center;">Value</div>
<div class="t b" style="top:100px;font-size:16.6px;line-height:16.6px;color:#f4f4f4;font-family:'DejaVu Sans Condensed','Liberation Sans',sans-serif;font-weight:bold;letter-spacing:-0.303px;left:1596.35px;width:600px;text-align:center;">Min</div>
<div class="t b" style="top:100px;font-size:16.6px;line-height:16.6px;color:#f4f4f4;font-family:'DejaVu Sans Condensed','Liberation Sans',sans-serif;font-weight:bold;letter-spacing:-0.088px;left:1686.46px;width:600px;text-align:center;">Max</div>
<div class="t b" style="top:100px;font-size:16.6px;line-height:16.6px;color:#f4f4f4;font-family:'DejaVu Sans Condensed','Liberation Sans',sans-serif;font-weight:bold;letter-spacing:0.276px;left:1855.14px;width:600px;text-align:center;">Average (10 min)</div>
<div style="left:1606px;top:128px;width:222px;height:22px;background:#f86d45;"></div>
<div style="left:2035px;top:128px;width:214px;height:22px;background:#3480d8;"></div>
<div class="t" style="top:132px;font-size:16.3px;line-height:16.3px;color:#eeeeee;font-family:'DejaVu Sans Condensed','Liberation Sans',sans-serif;letter-spacing:-0.213px;left:1486.4px;">CPU Package</div>
<div class="t" style="top:132px;font-size:16.3px;line-height:16.3px;color:#ffffff;font-family:'DejaVu Sans Condensed','Liberation Sans',sans-serif;letter-spacing:-0.279px;left:1426.86px;width:600px;text-align:center;">95°C</div>
<div class="t" style="top:132px;font-size:16.3px;line-height:16.3px;color:#eeeeee;font-family:'DejaVu Sans Condensed','Liberation Sans',sans-serif;letter-spacing:-0.279px;left:1596.36px;width:600px;text-align:center;">58°C</div>
<div class="t" style="top:132px;font-size:16.3px;line-height:16.3px;color:#eeeeee;font-family:'DejaVu Sans Condensed','Liberation Sans',sans-serif;letter-spacing:-0.306px;left:1686.35px;width:600px;text-align:center;">100°C</div>
<div class="t" style="top:132px;font-size:16.3px;line-height:16.3px;color:#ffffff;font-family:'DejaVu Sans Condensed','Liberation Sans',sans-serif;letter-spacing:-0.221px;left:1854.89px;width:600px;text-align:center;">89.9°C</div>
<div style="left:1606px;top:157px;width:206px;height:22px;background:#f86d45;"></div>
<div style="left:2035px;top:157px;width:205px;height:22px;background:#3480d8;"></div>
<div class="t" style="top:161px;font-size:16.3px;line-height:16.3px;color:#eeeeee;font-family:'DejaVu Sans Condensed','Liberation Sans',sans-serif;letter-spacing:-0.060px;left:1486.4px;">CPU Core 1:</div>
<div class="t" style="top:161px;font-size:16.3px;line-height:16.3px;color:#ffffff;font-family:'DejaVu Sans Condensed','Liberation Sans',sans-serif;letter-spacing:-0.279px;left:1426.86px;width:600px;text-align:center;">85°C</div>
<div class="t" style="top:161px;font-size:16.3px;line-height:16.3px;color:#eeeeee;font-family:'DejaVu Sans Condensed','Liberation Sans',sans-serif;letter-spacing:-0.279px;left:1596.36px;width:600px;text-align:center;">57°C</div>
<div class="t" style="top:161px;font-size:16.3px;line-height:16.3px;color:#eeeeee;font-family:'DejaVu Sans Condensed','Liberation Sans',sans-serif;letter-spacing:-0.306px;left:1686.35px;width:600px;text-align:center;">100°C</div>
<div class="t" style="top:161px;font-size:16.3px;line-height:16.3px;color:#ffffff;font-family:'DejaVu Sans Condensed','Liberation Sans',sans-serif;letter-spacing:-0.279px;left:1854.86px;width:600px;text-align:center;">86°C</div>
<div style="left:1606px;top:186px;width:185px;height:22px;background:#f86d45;"></div>
<div style="left:2035px;top:186px;width:193px;height:22px;background:#3480d8;"></div>
<div class="t" style="top:190px;font-size:16.3px;line-height:16.3px;color:#eeeeee;font-family:'DejaVu Sans Condensed','Liberation Sans',sans-serif;letter-spacing:-0.060px;left:1486.4px;">CPU Core 2:</div>
<div class="t" style="top:190px;font-size:16.3px;line-height:16.3px;color:#ffffff;font-family:'DejaVu Sans Condensed','Liberation Sans',sans-serif;letter-spacing:-0.279px;left:1426.86px;width:600px;text-align:center;">77°C</div>
<div class="t" style="top:190px;font-size:16.3px;line-height:16.3px;color:#eeeeee;font-family:'DejaVu Sans Condensed','Liberation Sans',sans-serif;letter-spacing:-0.279px;left:1596.36px;width:600px;text-align:center;">56°C</div>
<div class="t" style="top:190px;font-size:16.3px;line-height:16.3px;color:#eeeeee;font-family:'DejaVu Sans Condensed','Liberation Sans',sans-serif;letter-spacing:-0.306px;left:1686.35px;width:600px;text-align:center;">100°C</div>
<div class="t" style="top:190px;font-size:16.3px;line-height:16.3px;color:#ffffff;font-family:'DejaVu Sans Condensed','Liberation Sans',sans-serif;letter-spacing:-0.221px;left:1854.89px;width:600px;text-align:center;">81.3°C</div>
<div style="left:1606px;top:215px;width:210px;height:22px;background:#f86d45;"></div>
<div style="left:2035px;top:215px;width:197px;height:22px;background:#3480d8;"></div>
<div class="t" style="top:219px;font-size:16.3px;line-height:16.3px;color:#eeeeee;font-family:'DejaVu Sans Condensed','Liberation Sans',sans-serif;letter-spacing:-0.060px;left:1486.4px;">CPU Core 3:</div>
<div class="t" style="top:219px;font-size:16.3px;line-height:16.3px;color:#ffffff;font-family:'DejaVu Sans Condensed','Liberation Sans',sans-serif;letter-spacing:-0.279px;left:1426.86px;width:600px;text-align:center;">83°C</div>
<div class="t" style="top:219px;font-size:16.3px;line-height:16.3px;color:#eeeeee;font-family:'DejaVu Sans Condensed','Liberation Sans',sans-serif;letter-spacing:-0.279px;left:1596.36px;width:600px;text-align:center;">56°C</div>
<div class="t" style="top:219px;font-size:16.3px;line-height:16.3px;color:#eeeeee;font-family:'DejaVu Sans Condensed','Liberation Sans',sans-serif;letter-spacing:-0.306px;left:1686.35px;width:600px;text-align:center;">100°C</div>
<div class="t" style="top:219px;font-size:16.3px;line-height:16.3px;color:#ffffff;font-family:'DejaVu Sans Condensed','Liberation Sans',sans-serif;letter-spacing:-0.221px;left:1854.89px;width:600px;text-align:center;">82.6°C</div>
<div style="left:1606px;top:244px;width:208px;height:22px;background:#f86d45;"></div>
<div style="left:2035px;top:244px;width:204px;height:22px;background:#3480d8;"></div>
<div class="t" style="top:248px;font-size:16.3px;line-height:16.3px;color:#eeeeee;font-family:'DejaVu Sans Condensed','Liberation Sans',sans-serif;letter-spacing:-0.060px;left:1486.4px;">CPU Core 4:</div>
<div class="t" style="top:248px;font-size:16.3px;line-height:16.3px;color:#ffffff;font-family:'DejaVu Sans Condensed','Liberation Sans',sans-serif;letter-spacing:-0.279px;left:1426.86px;width:600px;text-align:center;">95°C</div>
<div class="t" style="top:248px;font-size:16.3px;line-height:16.3px;color:#eeeeee;font-family:'DejaVu Sans Condensed','Liberation Sans',sans-serif;letter-spacing:-0.279px;left:1596.36px;width:600px;text-align:center;">56°C</div>
<div class="t" style="top:248px;font-size:16.3px;line-height:16.3px;color:#eeeeee;font-family:'DejaVu Sans Condensed','Liberation Sans',sans-serif;letter-spacing:-0.306px;left:1686.35px;width:600px;text-align:center;">100°C</div>
<div class="t" style="top:248px;font-size:16.3px;line-height:16.3px;color:#ffffff;font-family:'DejaVu Sans Condensed','Liberation Sans',sans-serif;letter-spacing:-0.221px;left:1854.89px;width:600px;text-align:center;">85.7°C</div>
<div style="left:1606px;top:273px;width:181px;height:22px;background:#f86d45;"></div>
<div style="left:2035px;top:273px;width:176px;height:22px;background:#3480d8;"></div>
<div class="t" style="top:277px;font-size:16.3px;line-height:16.3px;color:#eeeeee;font-family:'DejaVu Sans Condensed','Liberation Sans',sans-serif;letter-spacing:-0.060px;left:1486.4px;">CPU Core 5:</div>
<div class="t" style="top:277px;font-size:16.3px;line-height:16.3px;color:#ffffff;font-family:'DejaVu Sans Condensed','Liberation Sans',sans-serif;letter-spacing:-0.279px;left:1426.86px;width:600px;text-align:center;">75°C</div>
<div class="t" style="top:277px;font-size:16.3px;line-height:16.3px;color:#eeeeee;font-family:'DejaVu Sans Condensed','Liberation Sans',sans-serif;letter-spacing:-0.279px;left:1596.36px;width:600px;text-align:center;">56°C</div>
<div class="t" style="top:277px;font-size:16.3px;line-height:16.3px;color:#eeeeee;font-family:'DejaVu Sans Condensed','Liberation Sans',sans-serif;letter-spacing:-0.306px;left:1686.35px;width:600px;text-align:center;">100°C</div>
<div class="t" style="top:277px;font-size:16.3px;line-height:16.3px;color:#ffffff;font-family:'DejaVu Sans Condensed','Liberation Sans',sans-serif;letter-spacing:-0.221px;left:1854.89px;width:600px;text-align:center;">74.2°C</div>
<div style="left:1606px;top:302px;width:185px;height:22px;background:#f86d45;"></div>
<div style="left:2035px;top:302px;width:181px;height:22px;background:#3480d8;"></div>
<div class="t" style="top:306px;font-size:16.3px;line-height:16.3px;color:#eeeeee;font-family:'DejaVu Sans Condensed','Liberation Sans',sans-serif;letter-spacing:-0.060px;left:1486.4px;">CPU Core 6:</div>
<div class="t" style="top:306px;font-size:16.3px;line-height:16.3px;color:#ffffff;font-family:'DejaVu Sans Condensed','Liberation Sans',sans-serif;letter-spacing:-0.279px;left:1426.86px;width:600px;text-align:center;">77°C</div>
<div class="t" style="top:306px;font-size:16.3px;line-height:16.3px;color:#eeeeee;font-family:'DejaVu Sans Condensed','Liberation Sans',sans-serif;letter-spacing:-0.279px;left:1596.36px;width:600px;text-align:center;">56°C</div>
<div class="t" style="top:306px;font-size:16.3px;line-height:16.3px;color:#eeeeee;font-family:'DejaVu Sans Condensed','Liberation Sans',sans-serif;letter-spacing:-0.279px;left:1686.36px;width:600px;text-align:center;">86°C</div>
<div class="t" style="top:306px;font-size:16.3px;line-height:16.3px;color:#ffffff;font-family:'DejaVu Sans Condensed','Liberation Sans',sans-serif;letter-spacing:-0.221px;left:1854.89px;width:600px;text-align:center;">76.2°C</div>
<div style="left:1438px;top:350px;width:841px;height:293px;background:#494d57;"></div>
<div style="left:1440px;top:352px;width:839px;height:289px;background:#4e525c;"></div>
<div style="left:1441px;top:353px;width:837px;height:287px;background:#3a3e48;"></div>
<div class="t b" style="top:367px;font-size:16.4px;line-height:16.4px;color:#f4f4f4;font-family:'DejaVu Sans Condensed','Liberation Sans',sans-serif;font-weight:bold;letter-spacing:-0.158px;left:1452px;">CPU Load</div>
<div style="left:1441px;top:393px;width:837px;height:1px;background:#565a63;"></div>
<svg style="left:0;top:0" width="2327" height="400"><rect x="2155.3" y="368.6" width="10.6" height="10.6" fill="none" stroke="#c4c5c9" stroke-width="1.5"/><g transform="translate(2203.5,367.8)"><rect x="2.2" y="0.4" width="5.6" height="7" fill="none" stroke="#c4c5c9" stroke-width="1.4"/><rect x="5.6" y="0.4" width="2.2" height="7" fill="#c4c5c9"/><rect x="0" y="7.2" width="10" height="1.5" fill="#c4c5c9"/><rect x="4.3" y="8.4" width="1.5" height="5" fill="#c4c5c9"/></g><path d="M2248.9,368.40000000000003 L2260.1,379.6 M2260.1,368.40000000000003 L2248.9,379.6" stroke="#c4c5c9" stroke-width="1.6" fill="none"/></svg>
<svg style="left:0;top:0" width="2327" height="636"><path d="M1441,429.5 H2278 M1478,458.5 H2278 M1478,487.5 H2278 M1478,516.5 H2278 M1478,545.5 H2278 M1478,574.5 H2278 M1478,603.5 H2278 M1478,632.5 H2278 M1478.5,393 V633 M1602.5,393 V633 M1851.5,393 V633 M1941.5,393 V633 M2031.5,393 V633 " stroke="#565a63" stroke-width="1" fill="none" shape-rendering="crispEdges"/></svg>
<div class="t b" style="top:404px;font-size:16.6px;line-height:16.6px;color:#f4f4f4;font-family:'DejaVu Sans Condensed','Liberation Sans',sans-serif;font-weight:bold;letter-spacing:-0.312px;left:1488px;">Name</div>
<div class="t b" style="top:405px;font-size:16.6px;line-height:16.6px;color:#f4f4f4;font-family:'DejaVu Sans Condensed','Liberation Sans',sans-serif;font-weight:bold;letter-spacing:0.161px;left:1427.08px;width:600px;text-align:center;">Value</div>
<div class="t b" style="top:405px;font-size:16.6px;line-height:16.6px;color:#f4f4f4;font-family:'DejaVu Sans Condensed','Liberation Sans',sans-serif;font-weight:bold;letter-spacing:-0.303px;left:1596.35px;width:600px;text-align:center;">Min</div>
<div class="t b" style="top:405px;font-size:16.6px;line-height:16.6px;color:#f4f4f4;font-family:'DejaVu Sans Condensed','Liberation Sans',sans-serif;font-weight:bold;letter-spacing:-0.088px;left:1686.46px;width:600px;text-align:center;">Max</div>
<div class="t b" style="top:405px;font-size:16.6px;line-height:16.6px;color:#f4f4f4;font-family:'DejaVu Sans Condensed','Liberation Sans',sans-serif;font-weight:bold;letter-spacing:0.276px;left:1855.14px;width:600px;text-align:center;">Average (10 min)</div>
<div style="left:1606px;top:433px;width:34px;height:22px;background:#8dc63f;"></div>
<div style="left:2035px;top:433px;width:46px;height:22px;background:#3480d8;"></div>
<div class="t" style="top:437px;font-size:16.3px;line-height:16.3px;color:#eeeeee;font-family:'DejaVu Sans Condensed','Liberation Sans',sans-serif;letter-spacing:0.177px;left:1486.4px;">CPU Total</div>
<div class="t" style="top:437px;font-size:16.3px;line-height:16.3px;color:#eeeeee;font-family:'DejaVu Sans Condensed','Liberation Sans',sans-serif;letter-spacing:0.127px;left:1427.06px;width:600px;text-align:center;">15.1%</div>
<div class="t" style="top:437px;font-size:16.3px;line-height:16.3px;color:#eeeeee;font-family:'DejaVu Sans Condensed','Liberation Sans',sans-serif;letter-spacing:0.639px;left:1596.82px;width:600px;text-align:center;">0%</div>
<div class="t" style="top:437px;font-size:16.3px;line-height:16.3px;color:#eeeeee;font-family:'DejaVu Sans Condensed','Liberation Sans',sans-serif;letter-spacing:0.127px;left:1686.56px;width:600px;text-align:center;">65.2%</div>
<div class="t" style="top:437px;font-size:16.3px;line-height:16.3px;color:#eeeeee;font-family:'DejaVu Sans Condensed','Liberation Sans',sans-serif;letter-spacing:0.287px;left:1855.14px;width:600px;text-align:center;">20%</div>
<div style="left:1606px;top:462px;width:45px;height:22px;background:#8dc63f;"></div>
<div style="left:2035px;top:462px;width:68px;height:22px;background:#3480d8;"></div>
<div class="t" style="top:466px;font-size:16.3px;line-height:16.3px;color:#eeeeee;font-family:'DejaVu Sans Condensed','Liberation Sans',sans-serif;letter-spacing:-0.060px;left:1486.4px;">CPU Core 1:</div>
<div class="t" style="top:466px;font-size:16.3px;line-height:16.3px;color:#eeeeee;font-family:'DejaVu Sans Condensed','Liberation Sans',sans-serif;letter-spacing:0.127px;left:1427.06px;width:600px;text-align:center;">19.6%</div>
<div class="t" style="top:466px;font-size:16.3px;line-height:16.3px;color:#eeeeee;font-family:'DejaVu Sans Condensed','Liberation Sans',sans-serif;letter-spacing:0.639px;left:1596.82px;width:600px;text-align:center;">4%</div>
<div class="t" style="top:466px;font-size:16.3px;line-height:16.3px;color:#eeeeee;font-family:'DejaVu Sans Condensed','Liberation Sans',sans-serif;letter-spacing:0.127px;left:1686.56px;width:600px;text-align:center;">96.4%</div>
<div class="t" style="top:466px;font-size:16.3px;line-height:16.3px;color:#eeeeee;font-family:'DejaVu Sans Condensed','Liberation Sans',sans-serif;letter-spacing:0.127px;left:1855.06px;width:600px;text-align:center;">29.4%</div>
<div style="left:1606px;top:491px;width:44px;height:22px;background:#8dc63f;"></div>
<div style="left:2035px;top:491px;width:64px;height:22px;background:#3480d8;"></div>
<div class="t" style="top:495px;font-size:16.3px;line-height:16.3px;color:#eeeeee;font-family:'DejaVu Sans Condensed','Liberation Sans',sans-serif;letter-spacing:-0.060px;left:1486.4px;">CPU Core 2:</div>
<div class="t" style="top:495px;font-size:16.3px;line-height:16.3px;color:#eeeeee;font-family:'DejaVu Sans Condensed','Liberation Sans',sans-serif;letter-spacing:0.127px;left:1427.06px;width:600px;text-align:center;">20.3%</div>
<div class="t" style="top:495px;font-size:16.3px;line-height:16.3px;color:#eeeeee;font-family:'DejaVu Sans Condensed','Liberation Sans',sans-serif;letter-spacing:0.263px;left:1596.63px;width:600px;text-align:center;">6.4%</div>
<div class="t" style="top:495px;font-size:16.3px;line-height:16.3px;color:#eeeeee;font-family:'DejaVu Sans Condensed','Liberation Sans',sans-serif;letter-spacing:0.127px;left:1686.56px;width:600px;text-align:center;">97.2%</div>
<div class="t" style="top:495px;font-size:16.3px;line-height:16.3px;color:#eeeeee;font-family:'DejaVu Sans Condensed','Liberation Sans',sans-serif;letter-spacing:0.127px;left:1855.06px;width:600px;text-align:center;">27.8%</div>
<div style="left:1606px;top:520px;width:83px;height:22px;background:#8dc63f;"></div>
<div style="left:2035px;top:520px;width:58px;height:22px;background:#3480d8;"></div>
<div class="t" style="top:524px;font-size:16.3px;line-height:16.3px;color:#eeeeee;font-family:'DejaVu Sans Condensed','Liberation Sans',sans-serif;letter-spacing:-0.060px;left:1486.4px;">CPU Core 3:</div>
<div class="t" style="top:524px;font-size:16.3px;line-height:16.3px;color:#eeeeee;font-family:'DejaVu Sans Condensed','Liberation Sans',sans-serif;letter-spacing:0.127px;left:1427.06px;width:600px;text-align:center;">32.8%</div>
<div class="t" style="top:524px;font-size:16.3px;line-height:16.3px;color:#eeeeee;font-family:'DejaVu Sans Condensed','Liberation Sans',sans-serif;letter-spacing:0.639px;left:1596.82px;width:600px;text-align:center;">0%</div>
<div class="t" style="top:524px;font-size:16.3px;line-height:16.3px;color:#eeeeee;font-family:'DejaVu Sans Condensed','Liberation Sans',sans-serif;letter-spacing:0.127px;left:1686.56px;width:600px;text-align:center;">97.1%</div>
<div class="t" style="top:524px;font-size:16.3px;line-height:16.3px;color:#eeeeee;font-family:'DejaVu Sans Condensed','Liberation Sans',sans-serif;letter-spacing:0.287px;left:1855.14px;width:600px;text-align:center;">25%</div>
<div style="left:1606px;top:549px;width:46px;height:22px;background:#8dc63f;"></div>
<div style="left:2035px;top:549px;width:79px;height:22px;background:#3480d8;"></div>
<div class="t" style="top:553px;font-size:16.3px;line-height:16.3px;color:#eeeeee;font-family:'DejaVu Sans Condensed','Liberation Sans',sans-serif;letter-spacing:-0.060px;left:1486.4px;">CPU Core 4:</div>
<div class="t" style="top:553px;font-size:16.3px;line-height:16.3px;color:#eeeeee;font-family:'DejaVu Sans Condensed','Liberation Sans',sans-serif;letter-spacing:0.127px;left:1427.06px;width:600px;text-align:center;">20.8%</div>
<div class="t" style="top:553px;font-size:16.3px;line-height:16.3px;color:#eeeeee;font-family:'DejaVu Sans Condensed','Liberation Sans',sans-serif;letter-spacing:0.639px;left:1596.82px;width:600px;text-align:center;">0%</div>
<div class="t" style="top:553px;font-size:16.3px;line-height:16.3px;color:#eeeeee;font-family:'DejaVu Sans Condensed','Liberation Sans',sans-serif;letter-spacing:0.127px;left:1686.56px;width:600px;text-align:center;">97.2%</div>
<div class="t" style="top:553px;font-size:16.3px;line-height:16.3px;color:#eeeeee;font-family:'DejaVu Sans Condensed','Liberation Sans',sans-serif;letter-spacing:0.127px;left:1855.06px;width:600px;text-align:center;">33.7%</div>
<div style="left:2035px;top:578px;width:9px;height:22px;background:#3480d8;"></div>
<div class="t" style="top:582px;font-size:16.3px;line-height:16.3px;color:#eeeeee;font-family:'DejaVu Sans Condensed','Liberation Sans',sans-serif;letter-spacing:-0.060px;left:1486.4px;">CPU Core 5:</div>
<div class="t" style="top:582px;font-size:16.3px;line-height:16.3px;color:#eeeeee;font-family:'DejaVu Sans Condensed','Liberation Sans',sans-serif;letter-spacing:0.639px;left:1427.32px;width:600px;text-align:center;">0%</div>
<div class="t" style="top:582px;font-size:16.3px;line-height:16.3px;color:#eeeeee;font-family:'DejaVu Sans Condensed','Liberation Sans',sans-serif;letter-spacing:0.639px;left:1596.82px;width:600px;text-align:center;">0%</div>
<div class="t" style="top:582px;font-size:16.3px;line-height:16.3px;color:#eeeeee;font-family:'DejaVu Sans Condensed','Liberation Sans',sans-serif;letter-spacing:0.127px;left:1686.56px;width:600px;text-align:center;">64.7%</div>
<div class="t" style="top:582px;font-size:16.3px;line-height:16.3px;color:#eeeeee;font-family:'DejaVu Sans Condensed','Liberation Sans',sans-serif;letter-spacing:0.263px;left:1855.13px;width:600px;text-align:center;">4.6%</div>
<div class="t" style="top:611px;font-size:16.3px;line-height:16.3px;color:#eeeeee;font-family:'DejaVu Sans Condensed','Liberation Sans',sans-serif;letter-spacing:-0.060px;left:1486.4px;">CPU Core 6:</div>
<div class="t" style="top:611px;font-size:16.3px;line-height:16.3px;color:#eeeeee;font-family:'DejaVu Sans Condensed','Liberation Sans',sans-serif;letter-spacing:0.639px;left:1427.32px;width:600px;text-align:center;">0%</div>
<div class="t" style="top:611px;font-size:16.3px;line-height:16.3px;color:#eeeeee;font-family:'DejaVu Sans Condensed','Liberation Sans',sans-serif;letter-spacing:0.639px;left:1596.82px;width:600px;text-align:center;">0%</div>
<div class="t" style="top:611px;font-size:16.3px;line-height:16.3px;color:#eeeeee;font-family:'DejaVu Sans Condensed','Liberation Sans',sans-serif;letter-spacing:0.127px;left:1686.56px;width:600px;text-align:center;">34.3%</div>
<div class="t" style="top:611px;font-size:16.3px;line-height:16.3px;color:#eeeeee;font-family:'DejaVu Sans Condensed','Liberation Sans',sans-serif;letter-spacing:0.263px;left:1855.13px;width:600px;text-align:center;">0.7%</div>
<div style="left:1438px;top:646px;width:841px;height:821px;background:#494d57;"></div>
<div style="left:1440px;top:648px;width:839px;height:817px;background:#4e525c;"></div>
<div style="left:1441px;top:649px;width:837px;height:815px;background:#3a3e48;"></div>
<div class="t b" style="top:663px;font-size:16.4px;line-height:16.4px;color:#f4f4f4;font-family:'DejaVu Sans Condensed','Liberation Sans',sans-serif;font-weight:bold;letter-spacing:-0.062px;left:1452px;">CPU Core Parking</div>
<div style="left:1441px;top:689px;width:837px;height:1px;background:#565a63;"></div>
<svg style="left:0;top:0" width="2327" height="696"><rect x="2155.3" y="664.5999999999999" width="10.6" height="10.6" fill="none" stroke="#c4c5c9" stroke-width="1.5"/><g transform="translate(2203.5,663.8)"><rect x="2.2" y="0.4" width="5.6" height="7" fill="none" stroke="#c4c5c9" stroke-width="1.4"/><rect x="5.6" y="0.4" width="2.2" height="7" fill="#c4c5c9"/><rect x="0" y="7.2" width="10" height="1.5" fill="#c4c5c9"/><rect x="4.3" y="8.4" width="1.5" height="5" fill="#c4c5c9"/></g><path d="M2248.9,664.4 L2260.1,675.5999999999999 M2260.1,664.4 L2248.9,675.5999999999999" stroke="#c4c5c9" stroke-width="1.6" fill="none"/></svg>
<div style="left:1441px;top:1424px;width:837px;height:1px;background:#565a63;"></div>
<div class="t" style="top:1437px;font-size:16.3px;line-height:16.3px;color:#eeeeee;font-family:'DejaVu Sans Condensed','Liberation Sans',sans-serif;letter-spacing:-0.168px;left:1455px;">CPU Core Parking</div>
<div class="t" style="top:1437px;font-size:16.3px;line-height:16.3px;color:#eeeeee;font-family:'DejaVu Sans Condensed','Liberation Sans',sans-serif;letter-spacing:-0.230px;left:1604px;">CPU Line Chart</div>
<div style="left:1441px;top:1424px;width:150px;height:2px;background:#9a6266;"></div>
<div style="left:1441px;top:1426px;width:150px;height:6px;background:#5a2d48;"></div>
<div class="t" style="top:705px;font-size:20.2px;line-height:20.2px;color:#f0f0f0;font-family:'DejaVu Sans Condensed','Liberation Sans',sans-serif;letter-spacing:0.011px;left:1456.6px;">Cores Enabled: 67% - Cores Parked: 33%</div>
<svg style="left:0px;top:0px;" width="2327" height="960" viewBox="0 0 2327 960"><rect x="1462.5" y="933.5" width="754.0" height="15" fill="#5b5e67"/><rect x="2166.4" y="936" width="36.6" height="11" fill="#3b3f49"/><path d="M2182.5,939.5 V943.5 M2185,939.5 V943.5 M2187.5,939.5 V943.5" stroke="#5b5e67" stroke-width="1"/><path d="M1462.5,743.5 H2216.5 M1462.5,779.5 H2216.5 M1462.5,830.5 H2216.5 M1462.5,882.5 H2216.5 M1481.5,743.5 V933.5 M1557.5,743.5 V933.5 M1632.5,743.5 V933.5 M1707.5,743.5 V933.5 M1783.5,743.5 V933.5 M1858.5,743.5 V933.5 M1933.5,743.5 V933.5 M2009.5,743.5 V933.5 M2084.5,743.5 V933.5 M2159.5,743.5 V933.5 M1462.5,743.5 V933.5 M2216.5,743.5 V933.5" stroke="#62666e" stroke-width="1" fill="none" shape-rendering="crispEdges"/><path d="M1481.5,948.5 V953 M1494.5,948.5 V951 M1506.5,948.5 V951 M1519.5,948.5 V951 M1532.5,948.5 V951 M1544.5,948.5 V951 M1557.5,948.5 V953 M1569.5,948.5 V951 M1582.5,948.5 V951 M1594.5,948.5 V951 M1607.5,948.5 V951 M1619.5,948.5 V951 M1632.5,948.5 V953 M1645.5,948.5 V951 M1657.5,948.5 V951 M1670.5,948.5 V951 M1682.5,948.5 V951 M1695.5,948.5 V951 M1707.5,948.5 V953 M1720.5,948.5 V951 M1732.5,948.5 V951 M1745.5,948.5 V951 M1758.5,948.5 V951 M1770.5,948.5 V951 M1783.5,948.5 V953 M1795.5,948.5 V951 M1808.5,948.5 V951 M1820.5,948.5 V951 M1833.5,948.5 V951 M1845.5,948.5 V951 M1858.5,948.5 V953 M1871.5,948.5 V951 M1883.5,948.5 V951 M1896.5,948.5 V951 M1908.5,948.5 V951 M1921.5,948.5 V951 M1933.5,948.5 V953 M1946.5,948.5 V951 M1958.5,948.5 V951 M1971.5,948.5 V951 M1984.5,948.5 V951 M1996.5,948.5 V951 M2009.5,948.5 V953 M2021.5,948.5 V951 M2034.5,948.5 V951 M2046.5,948.5 V951 M2059.5,948.5 V951 M2071.5,948.5 V951 M2084.5,948.5 V953 M2096.5,948.5 V951 M2109.5,948.5 V951 M2122.5,948.5 V951 M2134.5,948.5 V951 M2147.5,948.5 V951 M2159.5,948.5 V953 M2172.5,948.5 V951 M2184.5,948.5 V951 M2197.5,948.5 V951 M2209.5,948.5 V951 M2216.5,934.5 H2220.5 M2216.5,921.5 H2219.0 M2216.5,908.5 H2219.0 M2216.5,895.5 H2219.0 M2216.5,882.5 H2220.5 M2216.5,869.5 H2219.0 M2216.5,856.5 H2219.0 M2216.5,843.5 H2219.0 M2216.5,830.5 H2220.5 M2216.5,817.5 H2219.0 M2216.5,804.5 H2219.0 M2216.5,792.5 H2219.0 M2216.5,779.5 H2220.5 M2216.5,766.5 H2219.0 M2216.5,753.5 H2219.0 " stroke="#50545d" stroke-width="1" shape-rendering="crispEdges"/><path d="M1462.5,760.5 H2216.5" stroke="#6f9be0" stroke-width="1.2" shape-rendering="crispEdges"/><path d="M1462.5,848.5 H2216.5" stroke="#b8603c" stroke-width="1.2" shape-rendering="crispEdges"/></svg>
<div class="t" style="top:771px;font-size:16.3px;line-height:16.3px;color:#eeeeee;font-family:'DejaVu Sans Condensed','Liberation Sans',sans-serif;letter-spacing:0.287px;left:2228px;">60%</div>
<div class="t" style="top:822px;font-size:16.3px;line-height:16.3px;color:#eeeeee;font-family:'DejaVu Sans Condensed','Liberation Sans',sans-serif;letter-spacing:0.287px;left:2228px;">40%</div>
<div class="t" style="top:874px;font-size:16.3px;line-height:16.3px;color:#eeeeee;font-family:'DejaVu Sans Condensed','Liberation Sans',sans-serif;letter-spacing:0.287px;left:2228px;">20%</div>
<div class="t" style="top:926px;font-size:16.3px;line-height:16.3px;color:#eeeeee;font-family:'DejaVu Sans Condensed','Liberation Sans',sans-serif;letter-spacing:0.639px;left:2228px;">0%</div>
<div class="t" style="top:960px;font-size:16.3px;line-height:16.3px;color:#eeeeee;font-family:'DejaVu Sans Condensed','Liberation Sans',sans-serif;letter-spacing:-0.031px;left:1457px;">7:11:36 PM</div>
<div class="t" style="top:960px;font-size:16.3px;line-height:16.3px;color:#eeeeee;font-family:'DejaVu Sans Condensed','Liberation Sans',sans-serif;letter-spacing:-0.031px;left:1332.54px;width:600px;text-align:center;">7:11:48 PM</div>
<div class="t" style="top:960px;font-size:16.3px;line-height:16.3px;color:#eeeeee;font-family:'DejaVu Sans Condensed','Liberation Sans',sans-serif;letter-spacing:-0.031px;left:1483.20px;width:600px;text-align:center;">7:12:00 PM</div>
<div class="t" style="top:960px;font-size:16.3px;line-height:16.3px;color:#eeeeee;font-family:'DejaVu Sans Condensed','Liberation Sans',sans-serif;letter-spacing:-0.031px;left:1633.86px;width:600px;text-align:center;">7:12:12 PM</div>
<div class="t" style="top:960px;font-size:16.3px;line-height:16.3px;color:#eeeeee;font-family:'DejaVu Sans Condensed','Liberation Sans',sans-serif;letter-spacing:-0.031px;left:1784.52px;width:600px;text-align:center;">7:12:24 PM</div>
<div class="t" style="top:982px;font-size:16.3px;line-height:16.3px;color:#eeeeee;font-family:'DejaVu Sans Condensed','Liberation Sans',sans-serif;letter-spacing:-0.031px;left:1257.21px;width:600px;text-align:center;">7:11:42 PM</div>
<div class="t" style="top:982px;font-size:16.3px;line-height:16.3px;color:#eeeeee;font-family:'DejaVu Sans Condensed','Liberation Sans',sans-serif;letter-spacing:-0.031px;left:1407.87px;width:600px;text-align:center;">7:11:54 PM</div>
<div class="t" style="top:982px;font-size:16.3px;line-height:16.3px;color:#eeeeee;font-family:'DejaVu Sans Condensed','Liberation Sans',sans-serif;letter-spacing:-0.031px;left:1558.53px;width:600px;text-align:center;">7:12:06 PM</div>
<div class="t" style="top:982px;font-size:16.3px;line-height:16.3px;color:#eeeeee;font-family:'DejaVu Sans Condensed','Liberation Sans',sans-serif;letter-spacing:-0.031px;left:1709.19px;width:600px;text-align:center;">7:12:18 PM</div>
<div class="t" style="top:982px;font-size:16.3px;line-height:16.3px;color:#eeeeee;font-family:'DejaVu Sans Condensed','Liberation Sans',sans-serif;letter-spacing:-0.031px;left:1859.85px;width:600px;text-align:center;">7:12:30 PM</div>
<div style="left:1467px;top:859.5px;width:252px;height:69px;background:#3a3e48;border:1px solid #565a63;"></div>
<div style="left:1486.6px;top:870px;width:23.4px;height:22.6px;border:2px solid #6c8fdb;"></div>
<svg style="left:1486.6px;top:870px;" width="24" height="23" viewBox="0 0 24 23"><path d="M6,11.8 L10.2,16.2 L18.2,6.8" stroke="#3fa0c8" stroke-width="3.2" fill="none"/></svg>
<div style="left:1486.6px;top:896px;width:23.4px;height:22.6px;border:2px solid #c47a32;"></div>
<svg style="left:1486.6px;top:896px;" width="24" height="23" viewBox="0 0 24 23"><path d="M6,11.8 L10.2,16.2 L18.2,6.8" stroke="#d8502e" stroke-width="3.2" fill="none"/></svg>
<div class="t" style="top:873px;font-size:16.3px;line-height:16.3px;color:#eeeeee;font-family:'DejaVu Sans Condensed','Liberation Sans',sans-serif;letter-spacing:-0.242px;left:1517.6px;">Percent of Enabled Cores</div>
<div class="t" style="top:899px;font-size:16.3px;line-height:16.3px;color:#eeeeee;font-family:'DejaVu Sans Condensed','Liberation Sans',sans-serif;letter-spacing:-0.187px;left:1517.6px;">Percent of Parked Cores</div>
<div style="left:1853.4px;top:1018.6px;width:2.2px;height:2.2px;background:#d0d0d0;"></div>
<div style="left:1858.4px;top:1018.6px;width:2.2px;height:2.2px;background:#d0d0d0;"></div>
<div style="left:1863.4px;top:1018.6px;width:2.2px;height:2.2px;background:#d0d0d0;"></div>
<svg style="left:0;top:0" width="2327" height="1417"><path d="M1441,1065.5 H2273 M1482,1094.5 H2273 M1482,1123.5 H2273 M1482,1152.5 H2273 M1482,1181.5 H2273 M1482,1210.5 H2273 M1482,1239.5 H2273 M1482,1268.5 H2273 M1482,1297.5 H2273 M1482,1326.5 H2273 M1482,1355.5 H2273 M1482,1384.5 H2273 M1482,1413.5 H2273 M1482.5,1029 V1414 M1627.5,1029 V1414 M1738.5,1029 V1414 M2011.5,1029 V1414 " stroke="#565a63" stroke-width="1" fill="none" shape-rendering="crispEdges"/></svg>
<div class="t b" style="top:1040px;font-size:16.6px;line-height:16.6px;color:#f4f4f4;font-family:'DejaVu Sans Condensed','Liberation Sans',sans-serif;font-weight:bold;letter-spacing:-0.312px;left:1492.4px;">Name</div>
<div class="t b" style="top:1040px;font-size:16.6px;line-height:16.6px;color:#f4f4f4;font-family:'DejaVu Sans Condensed','Liberation Sans',sans-serif;font-weight:bold;letter-spacing:-0.360px;left:1382.82px;width:600px;text-align:center;">Current</div>
<div class="t b" style="top:1040px;font-size:16.6px;line-height:16.6px;color:#f4f4f4;font-family:'DejaVu Sans Condensed','Liberation Sans',sans-serif;font-weight:bold;letter-spacing:0.288px;left:1575.14px;width:600px;text-align:center;">% Of Time In Enabled State</div>
<div class="t b" style="top:1040px;font-size:16.6px;line-height:16.6px;color:#f4f4f4;font-family:'DejaVu Sans Condensed','Liberation Sans',sans-serif;font-weight:bold;letter-spacing:0.299px;left:1842.15px;width:600px;text-align:center;">% Of Time In Parked State</div>
<div style="left:1742px;top:1069px;width:265.5px;height:22px;background:#1eaee0;"></div>
<div class="t" style="top:1073px;font-size:16.3px;line-height:16.3px;color:#eeeeee;font-family:'DejaVu Sans Condensed','Liberation Sans',sans-serif;left:1490.4px;">Core 1 (T0)</div>
<div class="t" style="top:1073px;font-size:16.3px;line-height:16.3px;color:#eeeeee;font-family:'DejaVu Sans Condensed','Liberation Sans',sans-serif;letter-spacing:-0.428px;left:1382.79px;width:600px;text-align:center;">Enabled</div>
<div class="t" style="top:1073px;font-size:16.3px;line-height:16.3px;color:#ffffff;font-family:'DejaVu Sans Condensed','Liberation Sans',sans-serif;letter-spacing:0.111px;left:1575.06px;width:600px;text-align:center;">100%</div>
<div class="t" style="top:1073px;font-size:16.3px;line-height:16.3px;color:#eeeeee;font-family:'DejaVu Sans Condensed','Liberation Sans',sans-serif;letter-spacing:0.639px;left:1842.32px;width:600px;text-align:center;">0%</div>
<div style="left:1742px;top:1098px;width:265.5px;height:22px;background:#1eaee0;"></div>
<div class="t" style="top:1102px;font-size:16.3px;line-height:16.3px;color:#eeeeee;font-family:'DejaVu Sans Condensed','Liberation Sans',sans-serif;left:1490.4px;">Core 1 (T1)</div>
<div class="t" style="top:1102px;font-size:16.3px;line-height:16.3px;color:#eeeeee;font-family:'DejaVu Sans Condensed','Liberation Sans',sans-serif;letter-spacing:-0.428px;left:1382.79px;width:600px;text-align:center;">Enabled</div>
<div class="t" style="top:1102px;font-size:16.3px;line-height:16.3px;color:#ffffff;font-family:'DejaVu Sans Condensed','Liberation Sans',sans-serif;letter-spacing:0.111px;left:1575.06px;width:600px;text-align:center;">100%</div>
<div class="t" style="top:1102px;font-size:16.3px;line-height:16.3px;color:#eeeeee;font-family:'DejaVu Sans Condensed','Liberation Sans',sans-serif;letter-spacing:0.639px;left:1842.32px;width:600px;text-align:center;">0%</div>
<div style="left:1742px;top:1127px;width:265.5px;height:22px;background:#1eaee0;"></div>
<div class="t" style="top:1131px;font-size:16.3px;line-height:16.3px;color:#eeeeee;font-family:'DejaVu Sans Condensed','Liberation Sans',sans-serif;left:1490.4px;">Core 2 (T0)</div>
<div class="t" style="top:1131px;font-size:16.3px;line-height:16.3px;color:#eeeeee;font-family:'DejaVu Sans Condensed','Liberation Sans',sans-serif;letter-spacing:-0.428px;left:1382.79px;width:600px;text-align:center;">Enabled</div>
<div class="t" style="top:1131px;font-size:16.3px;line-height:16.3px;color:#ffffff;font-family:'DejaVu Sans Condensed','Liberation Sans',sans-serif;letter-spacing:0.111px;left:1575.06px;width:600px;text-align:center;">100%</div>
<div class="t" style="top:1131px;font-size:16.3px;line-height:16.3px;color:#eeeeee;font-family:'DejaVu Sans Condensed','Liberation Sans',sans-serif;letter-spacing:0.639px;left:1842.32px;width:600px;text-align:center;">0%</div>
<div style="left:1742px;top:1156px;width:265.5px;height:22px;background:#1eaee0;"></div>
<div class="t" style="top:1160px;font-size:16.3px;line-height:16.3px;color:#eeeeee;font-family:'DejaVu Sans Condensed','Liberation Sans',sans-serif;left:1490.4px;">Core 2 (T1)</div>
<div class="t" style="top:1160px;font-size:16.3px;line-height:16.3px;color:#eeeeee;font-family:'DejaVu Sans Condensed','Liberation Sans',sans-serif;letter-spacing:-0.428px;left:1382.79px;width:600px;text-align:center;">Enabled</div>
<div class="t" style="top:1160px;font-size:16.3px;line-height:16.3px;color:#ffffff;font-family:'DejaVu Sans Condensed','Liberation Sans',sans-serif;letter-spacing:0.111px;left:1575.06px;width:600px;text-align:center;">100%</div>
<div class="t" style="top:1160px;font-size:16.3px;line-height:16.3px;color:#eeeeee;font-family:'DejaVu Sans Condensed','Liberation Sans',sans-serif;letter-spacing:0.639px;left:1842.32px;width:600px;text-align:center;">0%</div>
<div style="left:1742px;top:1185px;width:265.5px;height:22px;background:#1eaee0;"></div>
<div class="t" style="top:1189px;font-size:16.3px;line-height:16.3px;color:#eeeeee;font-family:'DejaVu Sans Condensed','Liberation Sans',sans-serif;left:1490.4px;">Core 3 (T0)</div>
<div class="t" style="top:1189px;font-size:16.3px;line-height:16.3px;color:#eeeeee;font-family:'DejaVu Sans Condensed','Liberation Sans',sans-serif;letter-spacing:-0.428px;left:1382.79px;width:600px;text-align:center;">Enabled</div>
<div class="t" style="top:1189px;font-size:16.3px;line-height:16.3px;color:#ffffff;font-family:'DejaVu Sans Condensed','Liberation Sans',sans-serif;letter-spacing:0.111px;left:1575.06px;width:600px;text-align:center;">100%</div>
<div class="t" style="top:1189px;font-size:16.3px;line-height:16.3px;color:#eeeeee;font-family:'DejaVu Sans Condensed','Liberation Sans',sans-serif;letter-spacing:0.639px;left:1842.32px;width:600px;text-align:center;">0%</div>
<div style="left:1742px;top:1214px;width:265.5px;height:22px;background:#1eaee0;"></div>
<div class="t" style="top:1218px;font-size:16.3px;line-height:16.3px;color:#eeeeee;font-family:'DejaVu Sans Condensed','Liberation Sans',sans-serif;left:1490.4px;">Core 3 (T1)</div>
<div class="t" style="top:1218px;font-size:16.3px;line-height:16.3px;color:#eeeeee;font-family:'DejaVu Sans Condensed','Liberation Sans',sans-serif;letter-spacing:-0.428px;left:1382.79px;width:600px;text-align:center;">Enabled</div>
<div class="t" style="top:1218px;font-size:16.3px;line-height:16.3px;color:#ffffff;font-family:'DejaVu Sans Condensed','Liberation Sans',sans-serif;letter-spacing:0.111px;left:1575.06px;width:600px;text-align:center;">100%</div>
<div class="t" style="top:1218px;font-size:16.3px;line-height:16.3px;color:#eeeeee;font-family:'DejaVu Sans Condensed','Liberation Sans',sans-serif;letter-spacing:0.639px;left:1842.32px;width:600px;text-align:center;">0%</div>
<div style="left:1742px;top:1243px;width:265.5px;height:22px;background:#1eaee0;"></div>
<div class="t" style="top:1247px;font-size:16.3px;line-height:16.3px;color:#eeeeee;font-family:'DejaVu Sans Condensed','Liberation Sans',sans-serif;left:1490.4px;">Core 4 (T0)</div>
<div class="t" style="top:1247px;font-size:16.3px;line-height:16.3px;color:#eeeeee;font-family:'DejaVu Sans Condensed','Liberation Sans',sans-serif;letter-spacing:-0.428px;left:1382.79px;width:600px;text-align:center;">Enabled</div>
<div class="t" style="top:1247px;font-size:16.3px;line-height:16.3px;color:#ffffff;font-family:'DejaVu Sans Condensed','Liberation Sans',sans-serif;letter-spacing:0.111px;left:1575.06px;width:600px;text-align:center;">100%</div>
<div class="t" style="top:1247px;font-size:16.3px;line-height:16.3px;color:#eeeeee;font-family:'DejaVu Sans Condensed','Liberation Sans',sans-serif;letter-spacing:0.639px;left:1842.32px;width:600px;text-align:center;">0%</div>
<div style="left:1742px;top:1272px;width:265.5px;height:22px;background:#1eaee0;"></div>
<div class="t" style="top:1276px;font-size:16.3px;line-height:16.3px;color:#eeeeee;font-family:'DejaVu Sans Condensed','Liberation Sans',sans-serif;left:1490.4px;">Core 4 (T1)</div>
<div class="t" style="top:1276px;font-size:16.3px;line-height:16.3px;color:#eeeeee;font-family:'DejaVu Sans Condensed','Liberation Sans',sans-serif;letter-spacing:-0.428px;left:1382.79px;width:600px;text-align:center;">Enabled</div>
<div class="t" style="top:1276px;font-size:16.3px;line-height:16.3px;color:#ffffff;font-family:'DejaVu Sans Condensed','Liberation Sans',sans-serif;letter-spacing:0.111px;left:1575.06px;width:600px;text-align:center;">100%</div>
<div class="t" style="top:1276px;font-size:16.3px;line-height:16.3px;color:#eeeeee;font-family:'DejaVu Sans Condensed','Liberation Sans',sans-serif;letter-spacing:0.639px;left:1842.32px;width:600px;text-align:center;">0%</div>
<div style="left:1742px;top:1301px;width:42px;height:22px;background:#1eaee0;"></div>
<div style="left:2015px;top:1301px;width:212px;height:22px;background:#f86d45;"></div>
<div class="t" style="top:1305px;font-size:16.3px;line-height:16.3px;color:#eeeeee;font-family:'DejaVu Sans Condensed','Liberation Sans',sans-serif;left:1490.4px;">Core 5 (T0)</div>
<div class="t" style="top:1305px;font-size:16.3px;line-height:16.3px;color:#b58258;font-family:'DejaVu Sans Condensed','Liberation Sans',sans-serif;letter-spacing:-0.163px;left:1382.92px;width:600px;text-align:center;">Parked</div>
<div class="t" style="top:1305px;font-size:16.3px;line-height:16.3px;color:#eeeeee;font-family:'DejaVu Sans Condensed','Liberation Sans',sans-serif;letter-spacing:0.037px;left:1575.02px;width:600px;text-align:center;">16.65%</div>
<div class="t" style="top:1305px;font-size:16.3px;line-height:16.3px;color:#ffe6dc;font-family:'DejaVu Sans Condensed','Liberation Sans',sans-serif;letter-spacing:0.037px;left:1842.02px;width:600px;text-align:center;">83.35%</div>
<div style="left:1742px;top:1330px;width:42px;height:22px;background:#1eaee0;"></div>
<div style="left:2015px;top:1330px;width:212px;height:22px;background:#f86d45;"></div>
<div class="t" style="top:1334px;font-size:16.3px;line-height:16.3px;color:#eeeeee;font-family:'DejaVu Sans Condensed','Liberation Sans',sans-serif;left:1490.4px;">Core 5 (T1)</div>
<div class="t" style="top:1334px;font-size:16.3px;line-height:16.3px;color:#b58258;font-family:'DejaVu Sans Condensed','Liberation Sans',sans-serif;letter-spacing:-0.163px;left:1382.92px;width:600px;text-align:center;">Parked</div>
<div class="t" style="top:1334px;font-size:16.3px;line-height:16.3px;color:#eeeeee;font-family:'DejaVu Sans Condensed','Liberation Sans',sans-serif;letter-spacing:0.037px;left:1575.02px;width:600px;text-align:center;">16.65%</div>
<div class="t" style="top:1334px;font-size:16.3px;line-height:16.3px;color:#ffe6dc;font-family:'DejaVu Sans Condensed','Liberation Sans',sans-serif;letter-spacing:0.037px;left:1842.02px;width:600px;text-align:center;">83.35%</div>
<div style="left:2015px;top:1359px;width:255.5px;height:22px;background:#f86d45;"></div>
<div class="t" style="top:1363px;font-size:16.3px;line-height:16.3px;color:#eeeeee;font-family:'DejaVu Sans Condensed','Liberation Sans',sans-serif;left:1490.4px;">Core 6 (T0)</div>
<div class="t" style="top:1363px;font-size:16.3px;line-height:16.3px;color:#b58258;font-family:'DejaVu Sans Condensed','Liberation Sans',sans-serif;letter-spacing:-0.163px;left:1382.92px;width:600px;text-align:center;">Parked</div>
<div class="t" style="top:1363px;font-size:16.3px;line-height:16.3px;color:#eeeeee;font-family:'DejaVu Sans Condensed','Liberation Sans',sans-serif;letter-spacing:0.639px;left:1575.32px;width:600px;text-align:center;">0%</div>
<div class="t" style="top:1363px;font-size:16.3px;line-height:16.3px;color:#ffe6dc;font-family:'DejaVu Sans Condensed','Liberation Sans',sans-serif;letter-spacing:0.111px;left:1842.06px;width:600px;text-align:center;">100%</div>
<div style="left:2015px;top:1388px;width:255.5px;height:22px;background:#f86d45;"></div>
<div class="t" style="top:1392px;font-size:16.3px;line-height:16.3px;color:#eeeeee;font-family:'DejaVu Sans Condensed','Liberation Sans',sans-serif;left:1490.4px;">Core 6 (T1)</div>
<div class="t" style="top:1392px;font-size:16.3px;line-height:16.3px;color:#b58258;font-family:'DejaVu Sans Condensed','Liberation Sans',sans-serif;letter-spacing:-0.163px;left:1382.92px;width:600px;text-align:center;">Parked</div>
<div class="t" style="top:1392px;font-size:16.3px;line-height:16.3px;color:#eeeeee;font-family:'DejaVu Sans Condensed','Liberation Sans',sans-serif;letter-spacing:0.639px;left:1575.32px;width:600px;text-align:center;">0%</div>
<div class="t" style="top:1392px;font-size:16.3px;line-height:16.3px;color:#ffe6dc;font-family:'DejaVu Sans Condensed','Liberation Sans',sans-serif;letter-spacing:0.111px;left:1842.06px;width:600px;text-align:center;">100%</div>
<div style="left:66px;top:1079px;width:683px;height:388px;background:#494d57;"></div>
<div style="left:68px;top:1081px;width:679px;height:384px;background:#4e525c;"></div>
<div style="left:69px;top:1082px;width:677px;height:382px;background:#3a3e48;"></div>
<div class="t b" style="top:1096px;font-size:16.4px;line-height:16.4px;color:#f4f4f4;font-family:'DejaVu Sans Condensed','Liberation Sans',sans-serif;font-weight:bold;letter-spacing:-0.051px;left:80px;">CPU Workload</div>
<div style="left:69px;top:1122px;width:677px;height:1px;background:#565a63;"></div>
<svg style="left:0;top:0" width="2327" height="1129"><rect x="623.3" y="1097.6" width="10.6" height="10.6" fill="none" stroke="#c4c5c9" stroke-width="1.5"/><g transform="translate(671.5,1096.8)"><rect x="2.2" y="0.4" width="5.6" height="7" fill="none" stroke="#c4c5c9" stroke-width="1.4"/><rect x="5.6" y="0.4" width="2.2" height="7" fill="#c4c5c9"/><rect x="0" y="7.2" width="10" height="1.5" fill="#c4c5c9"/><rect x="4.3" y="8.4" width="1.5" height="5" fill="#c4c5c9"/></g><path d="M716.9,1097.3999999999999 L728.1,1108.6 M728.1,1097.3999999999999 L716.9,1108.6" stroke="#c4c5c9" stroke-width="1.6" fill="none"/></svg>
<div style="left:69px;top:1424px;width:677px;height:1px;background:#565a63;"></div>
<div class="t" style="top:1437px;font-size:16.3px;line-height:16.3px;color:#eeeeee;font-family:'DejaVu Sans Condensed','Liberation Sans',sans-serif;letter-spacing:-0.297px;left:83px;">CPU Clock Distribution</div>
<div class="t" style="top:1437px;font-size:16.3px;line-height:16.3px;color:#eeeeee;font-family:'DejaVu Sans Condensed','Liberation Sans',sans-serif;letter-spacing:-0.142px;left:266px;">CPU Workload</div>
<div style="left:255px;top:1424px;width:127px;height:2px;background:#9a6266;"></div>
<div style="left:255px;top:1426px;width:127px;height:6px;background:#5a2d48;"></div>
<div class="t" style="top:1134px;font-size:19px;line-height:19px;color:#f0f0f0;font-family:'Liberation Sans',sans-serif;left:80.4px;letter-spacing:0.15px;">Timeframe (10 min avg)</div>
<svg style="left:0px;top:0px;" width="2327" height="1400" viewBox="0 0 2327 1400"><path d="M86.5,1165.5 H689.5 M86.5,1207.5 H695.5 M86.5,1266.5 H695.5 M86.5,1326.5 H695.5 M86.5,1165.5 V1385.5 M689.5,1165.5 V1389.5 M86.5,1385.5 H695.5" stroke="#5d616a" stroke-width="1" fill="none" shape-rendering="crispEdges"/><path d="M136.5,1385.5 V1391.5 M237.5,1385.5 V1391.5 M337.5,1385.5 V1391.5 M437.5,1385.5 V1391.5 M538.5,1385.5 V1391.5 M638.5,1385.5 V1391.5 " stroke="#5d616a" stroke-width="1" shape-rendering="crispEdges"/><path d="M96.5,1385.5 V1388.0 M116.5,1385.5 V1388.0 M156.5,1385.5 V1388.0 M176.5,1385.5 V1388.0 M197.5,1385.5 V1388.0 M217.5,1385.5 V1388.0 M257.5,1385.5 V1388.0 M277.5,1385.5 V1388.0 M297.5,1385.5 V1388.0 M317.5,1385.5 V1388.0 M357.5,1385.5 V1388.0 M377.5,1385.5 V1388.0 M397.5,1385.5 V1388.0 M417.5,1385.5 V1388.0 M457.5,1385.5 V1388.0 M477.5,1385.5 V1388.0 M498.5,1385.5 V1388.0 M518.5,1385.5 V1388.0 M558.5,1385.5 V1388.0 M578.5,1385.5 V1388.0 M598.5,1385.5 V1388.0 M618.5,1385.5 V1388.0 M658.5,1385.5 V1388.0 M678.5,1385.5 V1388.0 M689.5,1366.5 H692.5 M689.5,1346.5 H692.5 M689.5,1306.5 H692.5 M689.5,1287.5 H692.5 M689.5,1247.5 H692.5 M689.5,1227.5 H692.5 M689.5,1188.5 H692.5 M689.5,1168.5 H692.5 " stroke="#4f535c" stroke-width="1" shape-rendering="crispEdges"/><rect x="105.8" y="1210.7" width="30.2" height="174.3" fill="#3b93ad"/><rect x="136.8" y="1241.2" width="30.2" height="143.8" fill="#fdb913"/><rect x="206.1" y="1220.0" width="30.2" height="165.0" fill="#3b93ad"/><rect x="237.1" y="1248.8" width="30.2" height="136.2" fill="#fdb913"/><rect x="306.4" y="1236.9" width="30.2" height="148.1" fill="#3b93ad"/><rect x="337.4" y="1262.8" width="30.2" height="122.2" fill="#fdb913"/><rect x="406.7" y="1185.2" width="30.2" height="199.8" fill="#3b93ad"/><rect x="437.7" y="1220.1" width="30.2" height="164.9" fill="#fdb913"/><rect x="507.0" y="1357.5" width="30.2" height="27.5" fill="#3b93ad"/><rect x="538.0" y="1362.3" width="30.2" height="22.7" fill="#fdb913"/><rect x="607.3" y="1380.9" width="30.2" height="4.1" fill="#3b93ad"/><rect x="638.3" y="1381.6" width="30.2" height="3.4" fill="#fdb913"/><path d="M552.8,1352 V1362.5 M615,1370.6 L622,1381 M652.5,1372.4 V1381.6" stroke="#b9a536" stroke-width="1" fill="none"/></svg>
<div class="t" style="top:1199px;font-size:16.3px;line-height:16.3px;color:#eeeeee;font-family:'DejaVu Sans Condensed','Liberation Sans',sans-serif;letter-spacing:0.287px;left:700.4px;">30%</div>
<div class="t" style="top:1259px;font-size:16.3px;line-height:16.3px;color:#eeeeee;font-family:'DejaVu Sans Condensed','Liberation Sans',sans-serif;letter-spacing:0.287px;left:700.4px;">20%</div>
<div class="t" style="top:1318px;font-size:16.3px;line-height:16.3px;color:#eeeeee;font-family:'DejaVu Sans Condensed','Liberation Sans',sans-serif;letter-spacing:0.287px;left:700.4px;">10%</div>
<div class="t" style="top:1377px;font-size:16.3px;line-height:16.3px;color:#eeeeee;font-family:'DejaVu Sans Condensed','Liberation Sans',sans-serif;letter-spacing:0.639px;left:700.4px;">0%</div>
<div class="t" style="top:1397px;font-size:16.3px;line-height:16.3px;color:#eeeeee;font-family:'DejaVu Sans Condensed','Liberation Sans',sans-serif;left:-163.60px;width:600px;text-align:center;">1</div>
<div class="t" style="top:1397px;font-size:16.3px;line-height:16.3px;color:#eeeeee;font-family:'DejaVu Sans Condensed','Liberation Sans',sans-serif;left:-63.30px;width:600px;text-align:center;">2</div>
<div class="t" style="top:1397px;font-size:16.3px;line-height:16.3px;color:#eeeeee;font-family:'DejaVu Sans Condensed','Liberation Sans',sans-serif;left:37.00px;width:600px;text-align:center;">3</div>
<div class="t" style="top:1397px;font-size:16.3px;line-height:16.3px;color:#eeeeee;font-family:'DejaVu Sans Condensed','Liberation Sans',sans-serif;left:137.30px;width:600px;text-align:center;">4</div>
<div class="t" style="top:1397px;font-size:16.3px;line-height:16.3px;color:#eeeeee;font-family:'DejaVu Sans Condensed','Liberation Sans',sans-serif;left:237.60px;width:600px;text-align:center;">5</div>
<div class="t" style="top:1397px;font-size:16.3px;line-height:16.3px;color:#eeeeee;font-family:'DejaVu Sans Condensed','Liberation Sans',sans-serif;left:337.90px;width:600px;text-align:center;">6</div>
<div style="left:273px;top:1173px;width:228px;height:82px;background:#3a3e48;border:1px solid #565a63;"></div>
<div style="left:290px;top:1190.4px;width:27.8px;height:20.4px;background:#3b93ad;"></div>
<div style="left:290px;top:1216.6px;width:27.8px;height:21px;background:#fdb913;"></div>
<div class="t" style="top:1192px;font-size:16.3px;line-height:16.3px;color:#eeeeee;font-family:'DejaVu Sans Condensed','Liberation Sans',sans-serif;letter-spacing:-0.147px;left:323.8px;">Utilization distribution</div>
<div class="t" style="top:1219px;font-size:16.3px;line-height:16.3px;color:#eeeeee;font-family:'DejaVu Sans Condensed','Liberation Sans',sans-serif;letter-spacing:-0.163px;left:323.8px;">Workload distribution</div>
<div style="left:100.6px;top:1281px;width:38.8px;height:21.4px;background:#ffffff;border:1px solid #c9d6ea;"></div>
<div class="t" style="top:1284px;font-size:16.3px;line-height:16.3px;color:#566a96;font-family:'DejaVu Sans Condensed','Liberation Sans',sans-serif;letter-spacing:-0.268px;left:-180.13px;width:600px;text-align:center;">29.4</div>
<div style="left:127.4px;top:1302.6px;width:48px;height:21.4px;background:#ffffff;border:1px solid #d8cf7a;"></div>
<div class="t" style="top:1306px;font-size:16.3px;line-height:16.3px;color:#b5a233;font-family:'DejaVu Sans Condensed','Liberation Sans',sans-serif;letter-spacing:-0.298px;left:-148.75px;width:600px;text-align:center;">24.25</div>
<div style="left:196.6px;top:1285px;width:47.8px;height:21.4px;background:#ffffff;border:1px solid #c9d6ea;"></div>
<div class="t" style="top:1288px;font-size:16.3px;line-height:16.3px;color:#566a96;font-family:'DejaVu Sans Condensed','Liberation Sans',sans-serif;letter-spacing:-0.298px;left:-79.65px;width:600px;text-align:center;">27.83</div>
<div style="left:228.8px;top:1306.4px;width:48px;height:21.4px;background:#ffffff;border:1px solid #d8cf7a;"></div>
<div class="t" style="top:1309px;font-size:16.3px;line-height:16.3px;color:#b5a233;font-family:'DejaVu Sans Condensed','Liberation Sans',sans-serif;letter-spacing:-0.298px;left:-47.35px;width:600px;text-align:center;">22.96</div>
<div style="left:297.6px;top:1292.4px;width:48px;height:21.4px;background:#ffffff;border:1px solid #c9d6ea;"></div>
<div class="t" style="top:1295px;font-size:16.3px;line-height:16.3px;color:#566a96;font-family:'DejaVu Sans Condensed','Liberation Sans',sans-serif;letter-spacing:-0.298px;left:21.45px;width:600px;text-align:center;">24.97</div>
<div style="left:332.4px;top:1313.6px;width:39px;height:21.4px;background:#ffffff;border:1px solid #d8cf7a;"></div>
<div class="t" style="top:1317px;font-size:16.3px;line-height:16.3px;color:#b5a233;font-family:'DejaVu Sans Condensed','Liberation Sans',sans-serif;letter-spacing:-0.268px;left:51.77px;width:600px;text-align:center;">20.6</div>
<div style="left:401.8px;top:1270px;width:38.4px;height:21.4px;background:#ffffff;border:1px solid #c9d6ea;"></div>
<div class="t" style="top:1273px;font-size:16.3px;line-height:16.3px;color:#566a96;font-family:'DejaVu Sans Condensed','Liberation Sans',sans-serif;letter-spacing:-0.268px;left:120.87px;width:600px;text-align:center;">33.7</div>
<div style="left:432.6px;top:1291.4px;width:38.8px;height:21.4px;background:#ffffff;border:1px solid #d8cf7a;"></div>
<div class="t" style="top:1294px;font-size:16.3px;line-height:16.3px;color:#b5a233;font-family:'DejaVu Sans Condensed','Liberation Sans',sans-serif;letter-spacing:-0.268px;left:151.87px;width:600px;text-align:center;">27.8</div>
<div style="left:501.4px;top:1360.4px;width:38.8px;height:21.4px;background:#ffffff;border:1px solid #c9d6ea;"></div>
<div class="t" style="top:1363px;font-size:16.3px;line-height:16.3px;color:#566a96;font-family:'DejaVu Sans Condensed','Liberation Sans',sans-serif;letter-spacing:-0.268px;left:220.67px;width:600px;text-align:center;">4.63</div>
<div style="left:533.4px;top:1330.4px;width:39.2px;height:21.4px;background:#ffffff;border:1px solid #d8cf7a;"></div>
<div class="t" style="top:1333px;font-size:16.3px;line-height:16.3px;color:#b5a233;font-family:'DejaVu Sans Condensed','Liberation Sans',sans-serif;letter-spacing:-0.268px;left:252.87px;width:600px;text-align:center;">3.82</div>
<div style="left:594.6px;top:1349.8px;width:38.8px;height:21.4px;background:#ffffff;border:1px solid #c9d6ea;"></div>
<div class="t" style="top:1353px;font-size:16.3px;line-height:16.3px;color:#566a96;font-family:'DejaVu Sans Condensed','Liberation Sans',sans-serif;letter-spacing:-0.268px;left:313.87px;width:600px;text-align:center;">0.69</div>
<div style="left:633.4px;top:1350.6px;width:39.2px;height:21.4px;background:#ffffff;border:1px solid #d8cf7a;"></div>
<div class="t" style="top:1354px;font-size:16.3px;line-height:16.3px;color:#b5a233;font-family:'DejaVu Sans Condensed','Liberation Sans',sans-serif;letter-spacing:-0.268px;left:352.87px;width:600px;text-align:center;">0.57</div>
<div style="left:751px;top:1079px;width:685px;height:388px;background:#494d57;"></div>
<div style="left:753px;top:1081px;width:681px;height:384px;background:#4e525c;"></div>
<div style="left:754px;top:1082px;width:679px;height:382px;background:#3a3e48;"></div>
<div class="t b" style="top:1096px;font-size:16.4px;line-height:16.4px;color:#f4f4f4;font-family:'DejaVu Sans Condensed','Liberation Sans',sans-serif;font-weight:bold;left:765px;">CPU Clock</div>
<div style="left:754px;top:1122px;width:679px;height:1px;background:#565a63;"></div>
<svg style="left:0;top:0" width="2327" height="1129"><rect x="1310.6" y="1097.6" width="10.6" height="10.6" fill="none" stroke="#c4c5c9" stroke-width="1.5"/><g transform="translate(1358.8,1096.8)"><rect x="2.2" y="0.4" width="5.6" height="7" fill="none" stroke="#c4c5c9" stroke-width="1.4"/><rect x="5.6" y="0.4" width="2.2" height="7" fill="#c4c5c9"/><rect x="0" y="7.2" width="10" height="1.5" fill="#c4c5c9"/><rect x="4.3" y="8.4" width="1.5" height="5" fill="#c4c5c9"/></g><path d="M1404.2,1097.3999999999999 L1415.3999999999999,1108.6 M1415.3999999999999,1097.3999999999999 L1404.2,1108.6" stroke="#c4c5c9" stroke-width="1.6" fill="none"/></svg>
<div style="left:754px;top:1424px;width:679px;height:1px;background:#565a63;"></div>
<div class="t" style="top:1437px;font-size:16.3px;line-height:16.3px;color:#eeeeee;font-family:'DejaVu Sans Condensed','Liberation Sans',sans-serif;letter-spacing:-0.195px;left:768px;">CPU Temperature Distribution</div>
<div class="t" style="top:1437px;font-size:16.3px;line-height:16.3px;color:#eeeeee;font-family:'DejaVu Sans Condensed','Liberation Sans',sans-serif;letter-spacing:-0.270px;left:1004px;">CPU Clock</div>
<div style="left:991.4px;top:1424px;width:96.80000000000007px;height:2px;background:#9a6266;"></div>
<div style="left:991.4px;top:1426px;width:96.80000000000007px;height:6px;background:#5a2d48;"></div>
<svg style="left:0;top:0" width="2327" height="1365"><path d="M754,1158.5 H1432 M791,1187.5 H1432 M791,1216.5 H1432 M791,1245.5 H1432 M791,1274.5 H1432 M791,1303.5 H1432 M791,1332.5 H1432 M791,1361.5 H1432 M791.5,1122 V1362 M903.5,1122 V1362 M1102.5,1122 V1362 M1192.5,1122 V1362 M1282.5,1122 V1362 " stroke="#565a63" stroke-width="1" fill="none" shape-rendering="crispEdges"/></svg>
<div class="t b" style="top:1133px;font-size:16.6px;line-height:16.6px;color:#f4f4f4;font-family:'DejaVu Sans Condensed','Liberation Sans',sans-serif;font-weight:bold;letter-spacing:-0.312px;left:801px;">Name</div>
<div class="t b" style="top:1134px;font-size:16.6px;line-height:16.6px;color:#f4f4f4;font-family:'DejaVu Sans Condensed','Liberation Sans',sans-serif;font-weight:bold;letter-spacing:0.161px;left:703.08px;width:600px;text-align:center;">Value</div>
<div class="t b" style="top:1134px;font-size:16.6px;line-height:16.6px;color:#f4f4f4;font-family:'DejaVu Sans Condensed','Liberation Sans',sans-serif;font-weight:bold;letter-spacing:-0.303px;left:847.35px;width:600px;text-align:center;">Min</div>
<div class="t b" style="top:1134px;font-size:16.6px;line-height:16.6px;color:#f4f4f4;font-family:'DejaVu Sans Condensed','Liberation Sans',sans-serif;font-weight:bold;letter-spacing:-0.088px;left:937.46px;width:600px;text-align:center;">Max</div>
<div class="t b" style="top:1133px;font-size:16.6px;line-height:16.6px;color:#f4f4f4;font-family:'DejaVu Sans Condensed','Liberation Sans',sans-serif;font-weight:bold;letter-spacing:0.168px;left:1293.6px;">Average (10 ...</div>
<div style="left:907px;top:1162px;width:190px;height:22px;background:#b14e93;"></div>
<div style="left:1286px;top:1162px;width:142px;height:22px;background:#3b80dc;"></div>
<div class="t" style="top:1166px;font-size:16.3px;line-height:16.3px;color:#eeeeee;font-family:'DejaVu Sans Condensed','Liberation Sans',sans-serif;letter-spacing:-0.213px;left:799.4px;">CPU Package</div>
<div class="t" style="top:1166px;font-size:16.3px;line-height:16.3px;color:#ffe4f4;font-family:'DejaVu Sans Condensed','Liberation Sans',sans-serif;letter-spacing:-0.234px;left:702.88px;width:600px;text-align:center;">4.17 GHz</div>
<div class="t" style="top:1166px;font-size:16.3px;line-height:16.3px;color:#eeeeee;font-family:'DejaVu Sans Condensed','Liberation Sans',sans-serif;letter-spacing:-0.234px;left:847.38px;width:600px;text-align:center;">2.59 GHz</div>
<div class="t" style="top:1166px;font-size:16.3px;line-height:16.3px;color:#eeeeee;font-family:'DejaVu Sans Condensed','Liberation Sans',sans-serif;letter-spacing:-0.234px;left:937.38px;width:600px;text-align:center;">4.25 GHz</div>
<div class="t" style="top:1166px;font-size:16.3px;line-height:16.3px;color:#e6f3ff;font-family:'DejaVu Sans Condensed','Liberation Sans',sans-serif;letter-spacing:-0.234px;left:1057.38px;width:600px;text-align:center;">4.14 GHz</div>
<div style="left:907px;top:1191px;width:192px;height:22px;background:#b14e93;"></div>
<div style="left:1286px;top:1191px;width:143px;height:22px;background:#3b80dc;"></div>
<div class="t" style="top:1195px;font-size:16.3px;line-height:16.3px;color:#eeeeee;font-family:'DejaVu Sans Condensed','Liberation Sans',sans-serif;letter-spacing:-0.060px;left:799.4px;">CPU Core 1:</div>
<div class="t" style="top:1195px;font-size:16.3px;line-height:16.3px;color:#ffe4f4;font-family:'DejaVu Sans Condensed','Liberation Sans',sans-serif;letter-spacing:-0.234px;left:702.88px;width:600px;text-align:center;">4.19 GHz</div>
<div class="t" style="top:1195px;font-size:16.3px;line-height:16.3px;color:#eeeeee;font-family:'DejaVu Sans Condensed','Liberation Sans',sans-serif;letter-spacing:-0.234px;left:847.38px;width:600px;text-align:center;">2.59 GHz</div>
<div class="t" style="top:1195px;font-size:16.3px;line-height:16.3px;color:#eeeeee;font-family:'DejaVu Sans Condensed','Liberation Sans',sans-serif;letter-spacing:-0.234px;left:937.38px;width:600px;text-align:center;">4.29 GHz</div>
<div class="t" style="top:1195px;font-size:16.3px;line-height:16.3px;color:#e6f3ff;font-family:'DejaVu Sans Condensed','Liberation Sans',sans-serif;letter-spacing:-0.234px;left:1057.38px;width:600px;text-align:center;">4.16 GHz</div>
<div style="left:907px;top:1220px;width:192px;height:22px;background:#b14e93;"></div>
<div style="left:1286px;top:1220px;width:143px;height:22px;background:#3b80dc;"></div>
<div class="t" style="top:1224px;font-size:16.3px;line-height:16.3px;color:#eeeeee;font-family:'DejaVu Sans Condensed','Liberation Sans',sans-serif;letter-spacing:-0.060px;left:799.4px;">CPU Core 2:</div>
<div class="t" style="top:1224px;font-size:16.3px;line-height:16.3px;color:#ffe4f4;font-family:'DejaVu Sans Condensed','Liberation Sans',sans-serif;letter-spacing:-0.234px;left:702.88px;width:600px;text-align:center;">4.19 GHz</div>
<div class="t" style="top:1224px;font-size:16.3px;line-height:16.3px;color:#eeeeee;font-family:'DejaVu Sans Condensed','Liberation Sans',sans-serif;letter-spacing:-0.234px;left:847.38px;width:600px;text-align:center;">2.59 GHz</div>
<div class="t" style="top:1224px;font-size:16.3px;line-height:16.3px;color:#eeeeee;font-family:'DejaVu Sans Condensed','Liberation Sans',sans-serif;letter-spacing:-0.234px;left:937.38px;width:600px;text-align:center;">4.29 GHz</div>
<div class="t" style="top:1224px;font-size:16.3px;line-height:16.3px;color:#e6f3ff;font-family:'DejaVu Sans Condensed','Liberation Sans',sans-serif;letter-spacing:-0.234px;left:1057.38px;width:600px;text-align:center;">4.16 GHz</div>
<div style="left:907px;top:1249px;width:192px;height:22px;background:#b14e93;"></div>
<div style="left:1286px;top:1249px;width:143px;height:22px;background:#3b80dc;"></div>
<div class="t" style="top:1253px;font-size:16.3px;line-height:16.3px;color:#eeeeee;font-family:'DejaVu Sans Condensed','Liberation Sans',sans-serif;letter-spacing:-0.060px;left:799.4px;">CPU Core 3:</div>
<div class="t" style="top:1253px;font-size:16.3px;line-height:16.3px;color:#ffe4f4;font-family:'DejaVu Sans Condensed','Liberation Sans',sans-serif;letter-spacing:-0.234px;left:702.88px;width:600px;text-align:center;">4.19 GHz</div>
<div class="t" style="top:1253px;font-size:16.3px;line-height:16.3px;color:#eeeeee;font-family:'DejaVu Sans Condensed','Liberation Sans',sans-serif;letter-spacing:-0.234px;left:847.38px;width:600px;text-align:center;">2.59 GHz</div>
<div class="t" style="top:1253px;font-size:16.3px;line-height:16.3px;color:#eeeeee;font-family:'DejaVu Sans Condensed','Liberation Sans',sans-serif;letter-spacing:-0.234px;left:937.38px;width:600px;text-align:center;">4.29 GHz</div>
<div class="t" style="top:1253px;font-size:16.3px;line-height:16.3px;color:#e6f3ff;font-family:'DejaVu Sans Condensed','Liberation Sans',sans-serif;letter-spacing:-0.234px;left:1057.38px;width:600px;text-align:center;">4.16 GHz</div>
<div style="left:907px;top:1278px;width:192px;height:22px;background:#b14e93;"></div>
<div style="left:1286px;top:1278px;width:143px;height:22px;background:#3b80dc;"></div>
<div class="t" style="top:1282px;font-size:16.3px;line-height:16.3px;color:#eeeeee;font-family:'DejaVu Sans Condensed','Liberation Sans',sans-serif;letter-spacing:-0.060px;left:799.4px;">CPU Core 4:</div>
<div class="t" style="top:1282px;font-size:16.3px;line-height:16.3px;color:#ffe4f4;font-family:'DejaVu Sans Condensed','Liberation Sans',sans-serif;letter-spacing:-0.234px;left:702.88px;width:600px;text-align:center;">4.19 GHz</div>
<div class="t" style="top:1282px;font-size:16.3px;line-height:16.3px;color:#eeeeee;font-family:'DejaVu Sans Condensed','Liberation Sans',sans-serif;letter-spacing:-0.234px;left:847.38px;width:600px;text-align:center;">2.59 GHz</div>
<div class="t" style="top:1282px;font-size:16.3px;line-height:16.3px;color:#eeeeee;font-family:'DejaVu Sans Condensed','Liberation Sans',sans-serif;letter-spacing:-0.234px;left:937.38px;width:600px;text-align:center;">4.29 GHz</div>
<div class="t" style="top:1282px;font-size:16.3px;line-height:16.3px;color:#e6f3ff;font-family:'DejaVu Sans Condensed','Liberation Sans',sans-serif;letter-spacing:-0.234px;left:1057.38px;width:600px;text-align:center;">4.16 GHz</div>
<div style="left:907px;top:1307px;width:188px;height:22px;background:#b14e93;"></div>
<div style="left:1286px;top:1307px;width:141px;height:22px;background:#3b80dc;"></div>
<div class="t" style="top:1311px;font-size:16.3px;line-height:16.3px;color:#eeeeee;font-family:'DejaVu Sans Condensed','Liberation Sans',sans-serif;letter-spacing:-0.060px;left:799.4px;">CPU Core 5:</div>
<div class="t" style="top:1311px;font-size:16.3px;line-height:16.3px;color:#ffe4f4;font-family:'DejaVu Sans Condensed','Liberation Sans',sans-serif;letter-spacing:-0.234px;left:702.88px;width:600px;text-align:center;">4.19 GHz</div>
<div class="t" style="top:1311px;font-size:16.3px;line-height:16.3px;color:#eeeeee;font-family:'DejaVu Sans Condensed','Liberation Sans',sans-serif;letter-spacing:-0.234px;left:847.38px;width:600px;text-align:center;">2.59 GHz</div>
<div class="t" style="top:1311px;font-size:16.3px;line-height:16.3px;color:#eeeeee;font-family:'DejaVu Sans Condensed','Liberation Sans',sans-serif;letter-spacing:-0.234px;left:937.38px;width:600px;text-align:center;">4.29 GHz</div>
<div class="t" style="top:1311px;font-size:16.3px;line-height:16.3px;color:#e6f3ff;font-family:'DejaVu Sans Condensed','Liberation Sans',sans-serif;letter-spacing:-0.234px;left:1057.38px;width:600px;text-align:center;">4.11 GHz</div>
<div style="left:907px;top:1336px;width:187px;height:22px;background:#b14e93;"></div>
<div style="left:1286px;top:1336px;width:140px;height:22px;background:#3b80dc;"></div>
<div class="t" style="top:1340px;font-size:16.3px;line-height:16.3px;color:#eeeeee;font-family:'DejaVu Sans Condensed','Liberation Sans',sans-serif;letter-spacing:-0.060px;left:799.4px;">CPU Core 6:</div>
<div class="t" style="top:1340px;font-size:16.3px;line-height:16.3px;color:#ffe4f4;font-family:'DejaVu Sans Condensed','Liberation Sans',sans-serif;letter-spacing:-0.234px;left:702.88px;width:600px;text-align:center;">4.09 GHz</div>
<div class="t" style="top:1340px;font-size:16.3px;line-height:16.3px;color:#eeeeee;font-family:'DejaVu Sans Condensed','Liberation Sans',sans-serif;letter-spacing:-0.234px;left:847.38px;width:600px;text-align:center;">2.59 GHz</div>
<div class="t" style="top:1340px;font-size:16.3px;line-height:16.3px;color:#eeeeee;font-family:'DejaVu Sans Condensed','Liberation Sans',sans-serif;letter-spacing:-0.234px;left:937.38px;width:600px;text-align:center;">4.29 GHz</div>
<div class="t" style="top:1340px;font-size:16.3px;line-height:16.3px;color:#e6f3ff;font-family:'DejaVu Sans Condensed','Liberation Sans',sans-serif;letter-spacing:-0.208px;left:1057.40px;width:600px;text-align:center;">4.1 GHz</div>
<svg style="left:0px;top:0px;" width="2327" height="400" viewBox="0 0 2327 400"><rect x="2297" y="55.4" width="2.4" height="2.4" fill="#8a8d94"/><rect x="2302.6" y="55.4" width="2.4" height="2.4" fill="#8a8d94"/><rect x="2308.2" y="55.4" width="2.4" height="2.4" fill="#8a8d94"/><path d="M2296.4,93.6 C2297.4,86.4 2304.4,84.4 2309,87.6 C2311.6,89.6 2312.6,92.4 2312.4,96" fill="none" stroke="#62a4f6" stroke-width="3.2"/><path d="M2292.4,86.6 L2300.4,96.8 L2292.6,97.4Z" fill="#62a4f6"/><path d="M2299,108.6 L2303.2,112.2 L2299,115.8Z" fill="#f4f4f4"/><rect x="2281" y="126" width="46" height="1" fill="#50545d"/><rect x="2281" y="174" width="46" height="1" fill="#50545d"/><rect x="2281" y="300" width="46" height="1" fill="#50545d"/><rect x="2281" y="387" width="46" height="1" fill="#50545d"/><g fill="none" stroke="#3cb95e" stroke-width="3.2"><path d="M2295,149 A9,9 0 0 1 2311,144.8"/><path d="M2313,151.6 A9,9 0 0 1 2297,155.8"/></g><path d="M2314.6,139.6 V148 H2306.2Z M2293.4,161 V152.6 H2301.8Z" fill="#3cb95e"/><rect x="2292.4" y="202.20000000000002" width="4.4" height="6" fill="#5f9cf2"/><rect x="2298" y="197.60000000000002" width="4.4" height="10.6" fill="#8a8d92"/><rect x="2303.6" y="192.60000000000002" width="4.4" height="15.6" fill="#8a8d92"/><rect x="2309.2" y="186.60000000000002" width="4.4" height="21.6" fill="#8a8d92"/><rect x="2292.4" y="242.20000000000002" width="4.4" height="6" fill="#5f9cf2"/><rect x="2298" y="237.60000000000002" width="4.4" height="10.6" fill="#5f9cf2"/><rect x="2303.6" y="232.60000000000002" width="4.4" height="15.6" fill="#5f9cf2"/><rect x="2309.2" y="226.60000000000002" width="4.4" height="21.6" fill="#8a8d92"/><rect x="2292.4" y="282.0" width="4.4" height="6" fill="#5f9cf2"/><rect x="2298" y="277.4" width="4.4" height="10.6" fill="#5f9cf2"/><rect x="2303.6" y="272.4" width="4.4" height="15.6" fill="#5f9cf2"/><rect x="2309.2" y="266.4" width="4.4" height="21.6" fill="#5f9cf2"/><rect x="2293.4" y="313.4" width="13.8" height="13.8" fill="#6ea9fb"/><rect x="2308.4" y="313.4" width="6.6" height="13.8" fill="#3db565"/><rect x="2293.4" y="328.4" width="13.8" height="6.6" fill="#f05a70"/><rect x="2308.4" y="328.4" width="6.6" height="6.6" fill="#f4a92f"/><rect x="2295" y="315" width="2.6" height="1.2" fill="#3a55a8"/><rect x="2310.4" y="315" width="2.6" height="1.2" fill="#1f6b38"/><rect x="2295" y="329.6" width="2.6" height="1.2" fill="#8a2a3a"/><rect x="2310.4" y="329.6" width="2.6" height="1.2" fill="#8a5a10"/><path d="M2299,344 L2303.4,347.8 L2299,351.6Z" fill="#f4f4f4"/><path d="M2301.6,369.6 L2306,373.8 L2301.6,378Z" fill="#70747c"/></svg>
</div></body></html>
